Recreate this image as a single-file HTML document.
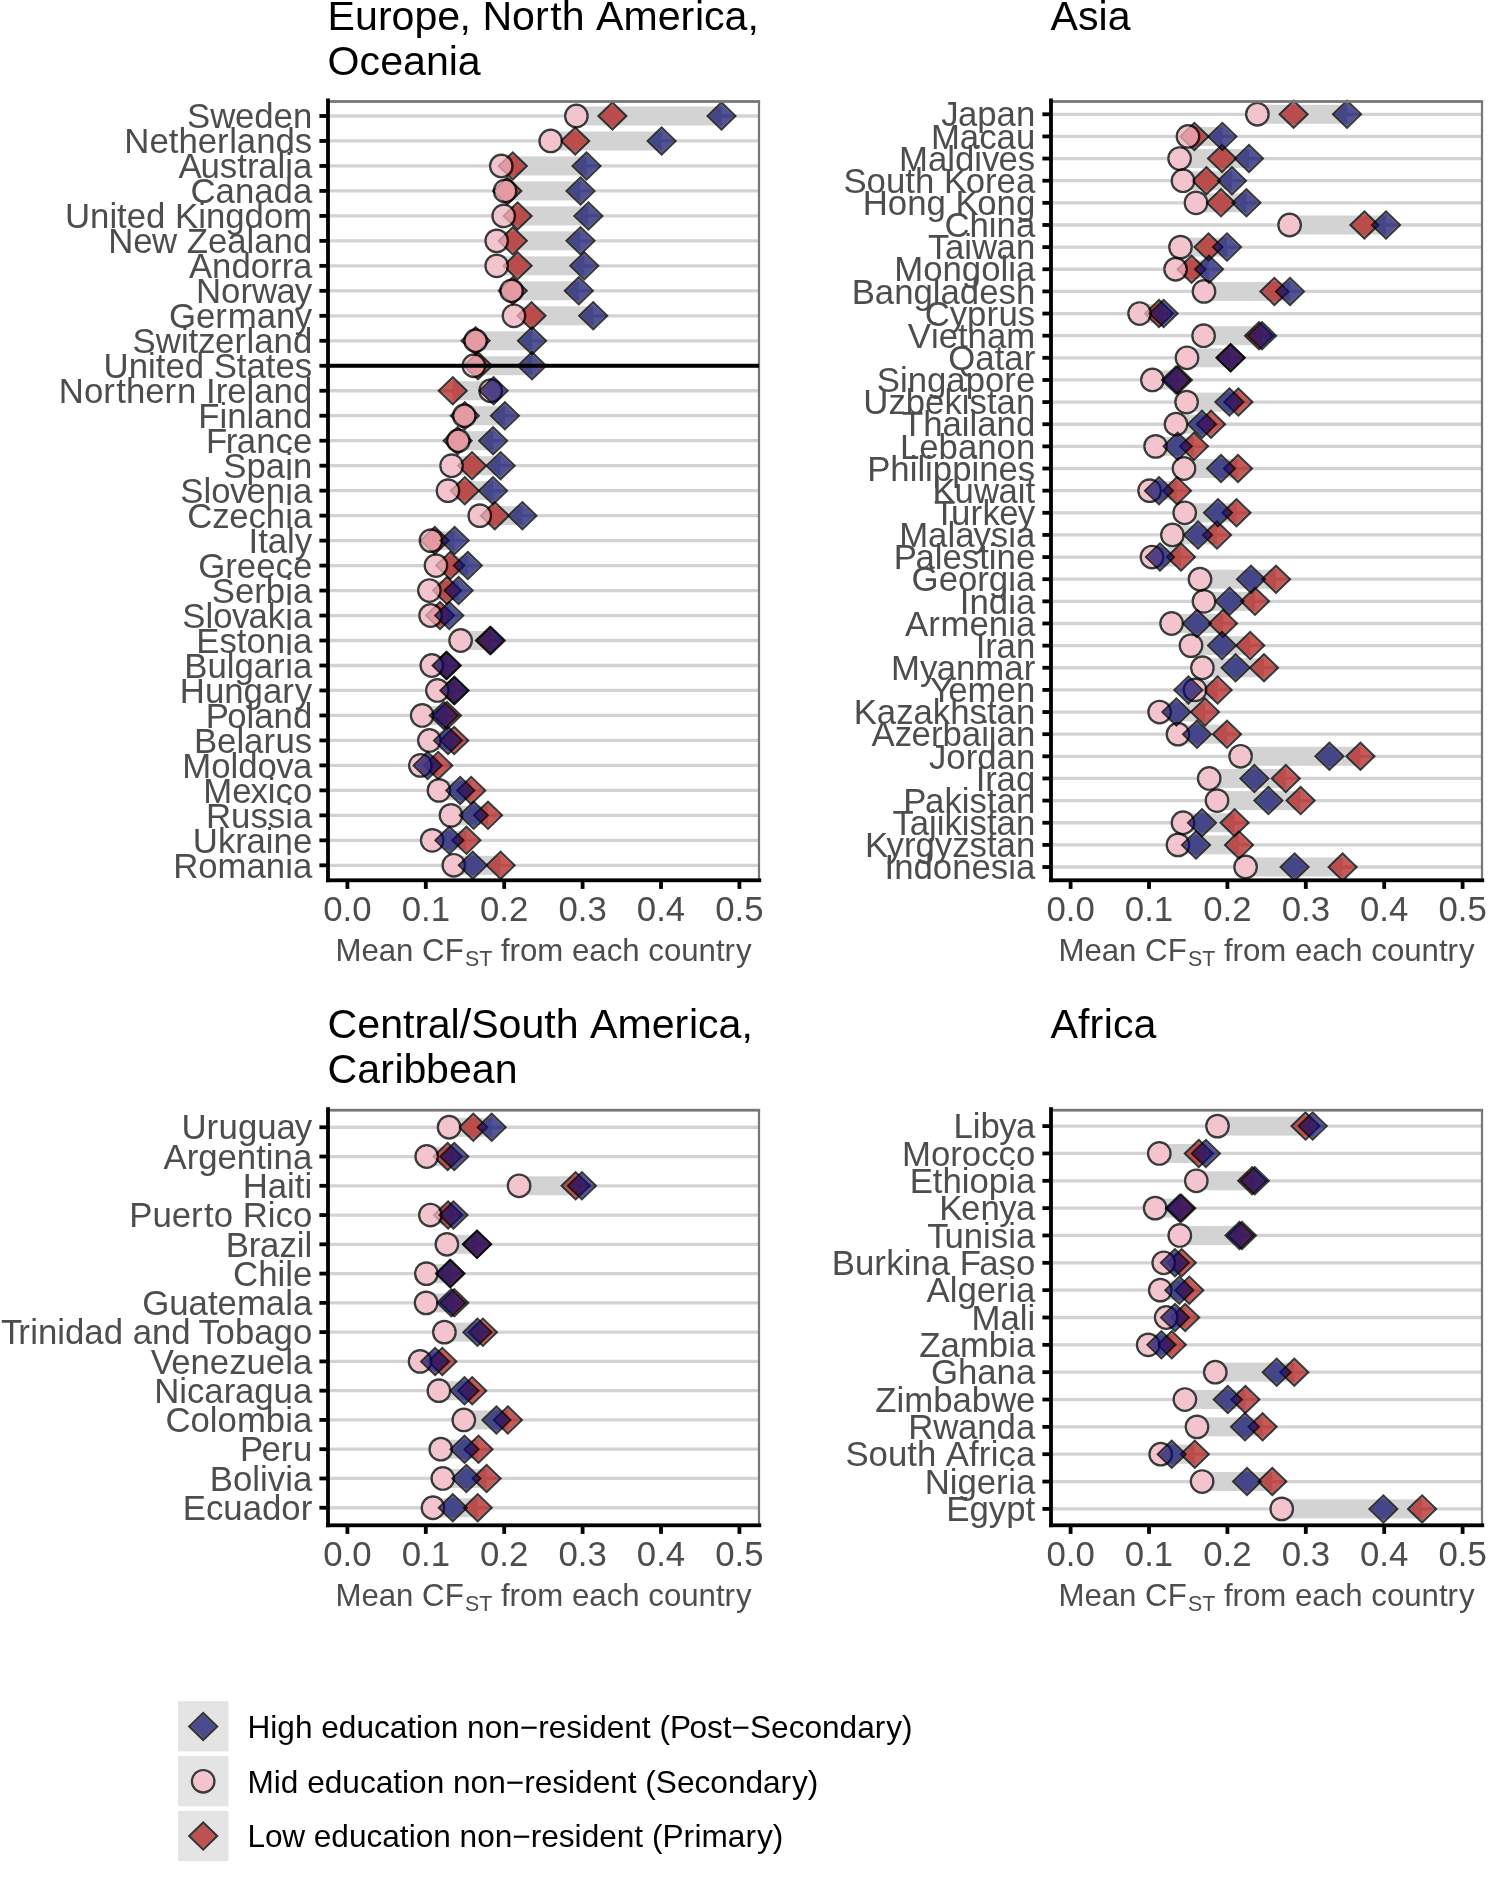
<!DOCTYPE html>
<html><head><meta charset="utf-8"><title>chart</title><style>
html,body{margin:0;padding:0;background:#fff;}
svg{display:block;will-change:transform;}
text{font-family:"Liberation Sans",sans-serif;}
.lbl{font-size:34.75px;fill:#4d4d4d;}
.axt{font-size:31.2px;fill:#4d4d4d;}
.sub{font-size:21.4px;fill:#4d4d4d;}
.ttl{font-size:41.12px;fill:#000;}
.leg{font-size:31.6px;fill:#000;}
</style></head>
<body><svg width="1500" height="1882" viewBox="0 0 1500 1882">
<rect width="1500" height="1882" fill="#fff"/>
<line x1="328" x2="759" y1="115.99" y2="115.99" stroke="#d3d3d3" stroke-width="3.3"/>
<line x1="328" x2="759" y1="140.96" y2="140.96" stroke="#d3d3d3" stroke-width="3.3"/>
<line x1="328" x2="759" y1="165.94" y2="165.94" stroke="#d3d3d3" stroke-width="3.3"/>
<line x1="328" x2="759" y1="190.92" y2="190.92" stroke="#d3d3d3" stroke-width="3.3"/>
<line x1="328" x2="759" y1="215.90" y2="215.90" stroke="#d3d3d3" stroke-width="3.3"/>
<line x1="328" x2="759" y1="240.87" y2="240.87" stroke="#d3d3d3" stroke-width="3.3"/>
<line x1="328" x2="759" y1="265.85" y2="265.85" stroke="#d3d3d3" stroke-width="3.3"/>
<line x1="328" x2="759" y1="290.83" y2="290.83" stroke="#d3d3d3" stroke-width="3.3"/>
<line x1="328" x2="759" y1="315.81" y2="315.81" stroke="#d3d3d3" stroke-width="3.3"/>
<line x1="328" x2="759" y1="340.78" y2="340.78" stroke="#d3d3d3" stroke-width="3.3"/>
<line x1="328" x2="759" y1="365.76" y2="365.76" stroke="#d3d3d3" stroke-width="3.3"/>
<line x1="328" x2="759" y1="390.74" y2="390.74" stroke="#d3d3d3" stroke-width="3.3"/>
<line x1="328" x2="759" y1="415.72" y2="415.72" stroke="#d3d3d3" stroke-width="3.3"/>
<line x1="328" x2="759" y1="440.69" y2="440.69" stroke="#d3d3d3" stroke-width="3.3"/>
<line x1="328" x2="759" y1="465.67" y2="465.67" stroke="#d3d3d3" stroke-width="3.3"/>
<line x1="328" x2="759" y1="490.65" y2="490.65" stroke="#d3d3d3" stroke-width="3.3"/>
<line x1="328" x2="759" y1="515.63" y2="515.63" stroke="#d3d3d3" stroke-width="3.3"/>
<line x1="328" x2="759" y1="540.61" y2="540.61" stroke="#d3d3d3" stroke-width="3.3"/>
<line x1="328" x2="759" y1="565.58" y2="565.58" stroke="#d3d3d3" stroke-width="3.3"/>
<line x1="328" x2="759" y1="590.56" y2="590.56" stroke="#d3d3d3" stroke-width="3.3"/>
<line x1="328" x2="759" y1="615.54" y2="615.54" stroke="#d3d3d3" stroke-width="3.3"/>
<line x1="328" x2="759" y1="640.52" y2="640.52" stroke="#d3d3d3" stroke-width="3.3"/>
<line x1="328" x2="759" y1="665.49" y2="665.49" stroke="#d3d3d3" stroke-width="3.3"/>
<line x1="328" x2="759" y1="690.47" y2="690.47" stroke="#d3d3d3" stroke-width="3.3"/>
<line x1="328" x2="759" y1="715.45" y2="715.45" stroke="#d3d3d3" stroke-width="3.3"/>
<line x1="328" x2="759" y1="740.43" y2="740.43" stroke="#d3d3d3" stroke-width="3.3"/>
<line x1="328" x2="759" y1="765.40" y2="765.40" stroke="#d3d3d3" stroke-width="3.3"/>
<line x1="328" x2="759" y1="790.38" y2="790.38" stroke="#d3d3d3" stroke-width="3.3"/>
<line x1="328" x2="759" y1="815.36" y2="815.36" stroke="#d3d3d3" stroke-width="3.3"/>
<line x1="328" x2="759" y1="840.34" y2="840.34" stroke="#d3d3d3" stroke-width="3.3"/>
<line x1="328" x2="759" y1="865.31" y2="865.31" stroke="#d3d3d3" stroke-width="3.3"/>
<rect x="576.40" y="106.49" width="145.10" height="19" fill="#d3d3d3"/>
<rect x="550.70" y="131.46" width="110.90" height="19" fill="#d3d3d3"/>
<rect x="501.30" y="156.44" width="85.20" height="19" fill="#d3d3d3"/>
<rect x="505.10" y="181.42" width="75.40" height="19" fill="#d3d3d3"/>
<rect x="503.70" y="206.40" width="84.70" height="19" fill="#d3d3d3"/>
<rect x="496.70" y="231.37" width="83.80" height="19" fill="#d3d3d3"/>
<rect x="496.70" y="256.35" width="87.60" height="19" fill="#d3d3d3"/>
<rect x="511.60" y="281.33" width="67.20" height="19" fill="#d3d3d3"/>
<rect x="514.00" y="306.31" width="79.20" height="19" fill="#d3d3d3"/>
<rect x="475.60" y="331.28" width="56.40" height="19" fill="#d3d3d3"/>
<rect x="473.90" y="356.26" width="58.10" height="19" fill="#d3d3d3"/>
<rect x="452.80" y="381.24" width="40.80" height="19" fill="#d3d3d3"/>
<rect x="464.30" y="406.22" width="40.60" height="19" fill="#d3d3d3"/>
<rect x="457.60" y="431.19" width="35.50" height="19" fill="#d3d3d3"/>
<rect x="451.60" y="456.17" width="49.00" height="19" fill="#d3d3d3"/>
<rect x="448.00" y="481.15" width="45.00" height="19" fill="#d3d3d3"/>
<rect x="479.80" y="506.13" width="42.60" height="19" fill="#d3d3d3"/>
<rect x="431.00" y="531.11" width="23.60" height="19" fill="#d3d3d3"/>
<rect x="436.00" y="556.08" width="31.80" height="19" fill="#d3d3d3"/>
<rect x="429.40" y="581.06" width="29.20" height="19" fill="#d3d3d3"/>
<rect x="430.60" y="606.04" width="18.60" height="19" fill="#d3d3d3"/>
<rect x="460.60" y="631.02" width="30.20" height="19" fill="#d3d3d3"/>
<rect x="431.80" y="655.99" width="15.00" height="19" fill="#d3d3d3"/>
<rect x="437.40" y="680.97" width="17.20" height="19" fill="#d3d3d3"/>
<rect x="422.20" y="705.95" width="24.80" height="19" fill="#d3d3d3"/>
<rect x="429.40" y="730.93" width="24.80" height="19" fill="#d3d3d3"/>
<rect x="420.40" y="755.90" width="17.80" height="19" fill="#d3d3d3"/>
<rect x="439.00" y="780.88" width="32.20" height="19" fill="#d3d3d3"/>
<rect x="451.00" y="805.86" width="37.00" height="19" fill="#d3d3d3"/>
<rect x="432.20" y="830.84" width="34.20" height="19" fill="#d3d3d3"/>
<rect x="453.80" y="855.81" width="46.80" height="19" fill="#d3d3d3"/>
<circle cx="576.40" cy="115.99" r="12.1" fill="#fff"/>
<circle cx="550.70" cy="140.96" r="12.1" fill="#fff"/>
<circle cx="501.30" cy="165.94" r="12.1" fill="#fff"/>
<circle cx="505.10" cy="190.92" r="12.1" fill="#fff"/>
<circle cx="503.70" cy="215.90" r="12.1" fill="#fff"/>
<circle cx="496.70" cy="240.87" r="12.1" fill="#fff"/>
<circle cx="496.70" cy="265.85" r="12.1" fill="#fff"/>
<circle cx="511.60" cy="290.83" r="12.1" fill="#fff"/>
<circle cx="514.00" cy="315.81" r="12.1" fill="#fff"/>
<circle cx="475.60" cy="340.78" r="12.1" fill="#fff"/>
<circle cx="473.90" cy="365.76" r="12.1" fill="#fff"/>
<circle cx="490.70" cy="390.74" r="12.1" fill="#fff"/>
<circle cx="464.30" cy="415.72" r="12.1" fill="#fff"/>
<circle cx="458.30" cy="440.69" r="12.1" fill="#fff"/>
<circle cx="451.60" cy="465.67" r="12.1" fill="#fff"/>
<circle cx="448.00" cy="490.65" r="12.1" fill="#fff"/>
<circle cx="479.80" cy="515.63" r="12.1" fill="#fff"/>
<circle cx="431.00" cy="540.61" r="12.1" fill="#fff"/>
<circle cx="436.00" cy="565.58" r="12.1" fill="#fff"/>
<circle cx="429.40" cy="590.56" r="12.1" fill="#fff"/>
<circle cx="430.60" cy="615.54" r="12.1" fill="#fff"/>
<circle cx="460.60" cy="640.52" r="12.1" fill="#fff"/>
<circle cx="431.80" cy="665.49" r="12.1" fill="#fff"/>
<circle cx="437.40" cy="690.47" r="12.1" fill="#fff"/>
<circle cx="422.20" cy="715.45" r="12.1" fill="#fff"/>
<circle cx="429.40" cy="740.43" r="12.1" fill="#fff"/>
<circle cx="420.40" cy="765.40" r="12.1" fill="#fff"/>
<circle cx="439.00" cy="790.38" r="12.1" fill="#fff"/>
<circle cx="451.00" cy="815.36" r="12.1" fill="#fff"/>
<circle cx="432.20" cy="840.34" r="12.1" fill="#fff"/>
<circle cx="453.80" cy="865.31" r="12.1" fill="#fff"/>
<path d="M612.40 100.99L627.90 115.99L612.40 130.99L596.90 115.99ZM612.40 104.19L624.59 115.99L612.40 127.79L600.21 115.99Z" fill-rule="evenodd" fill="#000" fill-opacity="0.77"/><path d="M612.40 104.19L624.59 115.99L612.40 127.79L600.21 115.99Z" fill="rgb(176,19,19)" fill-opacity="0.7"/>
<path d="M575.20 125.96L590.70 140.96L575.20 155.96L559.70 140.96ZM575.20 129.16L587.39 140.96L575.20 152.76L563.01 140.96Z" fill-rule="evenodd" fill="#000" fill-opacity="0.77"/><path d="M575.20 129.16L587.39 140.96L575.20 152.76L563.01 140.96Z" fill="rgb(176,19,19)" fill-opacity="0.7"/>
<path d="M512.80 150.94L528.30 165.94L512.80 180.94L497.30 165.94ZM512.80 154.14L524.99 165.94L512.80 177.74L500.61 165.94Z" fill-rule="evenodd" fill="#000" fill-opacity="0.77"/><path d="M512.80 154.14L524.99 165.94L512.80 177.74L500.61 165.94Z" fill="rgb(176,19,19)" fill-opacity="0.7"/>
<path d="M507.30 175.92L522.80 190.92L507.30 205.92L491.80 190.92ZM507.30 179.12L519.49 190.92L507.30 202.72L495.11 190.92Z" fill-rule="evenodd" fill="#000" fill-opacity="0.77"/><path d="M507.30 179.12L519.49 190.92L507.30 202.72L495.11 190.92Z" fill="rgb(176,19,19)" fill-opacity="0.7"/>
<path d="M517.60 200.90L533.10 215.90L517.60 230.90L502.10 215.90ZM517.60 204.10L529.79 215.90L517.60 227.70L505.41 215.90Z" fill-rule="evenodd" fill="#000" fill-opacity="0.77"/><path d="M517.60 204.10L529.79 215.90L517.60 227.70L505.41 215.90Z" fill="rgb(176,19,19)" fill-opacity="0.7"/>
<path d="M512.80 225.87L528.30 240.87L512.80 255.87L497.30 240.87ZM512.80 229.08L524.99 240.87L512.80 252.67L500.61 240.87Z" fill-rule="evenodd" fill="#000" fill-opacity="0.77"/><path d="M512.80 229.08L524.99 240.87L512.80 252.67L500.61 240.87Z" fill="rgb(176,19,19)" fill-opacity="0.7"/>
<path d="M517.60 250.85L533.10 265.85L517.60 280.85L502.10 265.85ZM517.60 254.05L529.79 265.85L517.60 277.65L505.41 265.85Z" fill-rule="evenodd" fill="#000" fill-opacity="0.77"/><path d="M517.60 254.05L529.79 265.85L517.60 277.65L505.41 265.85Z" fill="rgb(176,19,19)" fill-opacity="0.7"/>
<path d="M512.80 275.83L528.30 290.83L512.80 305.83L497.30 290.83ZM512.80 279.03L524.99 290.83L512.80 302.63L500.61 290.83Z" fill-rule="evenodd" fill="#000" fill-opacity="0.77"/><path d="M512.80 279.03L524.99 290.83L512.80 302.63L500.61 290.83Z" fill="rgb(176,19,19)" fill-opacity="0.7"/>
<path d="M531.50 300.81L547.00 315.81L531.50 330.81L516.00 315.81ZM531.50 304.01L543.69 315.81L531.50 327.61L519.31 315.81Z" fill-rule="evenodd" fill="#000" fill-opacity="0.77"/><path d="M531.50 304.01L543.69 315.81L531.50 327.61L519.31 315.81Z" fill="rgb(176,19,19)" fill-opacity="0.7"/>
<path d="M475.60 325.78L491.10 340.78L475.60 355.78L460.10 340.78ZM475.60 328.99L487.79 340.78L475.60 352.58L463.41 340.78Z" fill-rule="evenodd" fill="#000" fill-opacity="0.77"/><path d="M475.60 328.99L487.79 340.78L475.60 352.58L463.41 340.78Z" fill="rgb(176,19,19)" fill-opacity="0.7"/>
<path d="M478.00 350.76L493.50 365.76L478.00 380.76L462.50 365.76ZM478.00 353.96L490.19 365.76L478.00 377.56L465.81 365.76Z" fill-rule="evenodd" fill="#000" fill-opacity="0.77"/><path d="M478.00 353.96L490.19 365.76L478.00 377.56L465.81 365.76Z" fill="rgb(176,19,19)" fill-opacity="0.7"/>
<path d="M452.80 375.74L468.30 390.74L452.80 405.74L437.30 390.74ZM452.80 378.94L464.99 390.74L452.80 402.54L440.61 390.74Z" fill-rule="evenodd" fill="#000" fill-opacity="0.77"/><path d="M452.80 378.94L464.99 390.74L452.80 402.54L440.61 390.74Z" fill="rgb(176,19,19)" fill-opacity="0.7"/>
<path d="M464.80 400.72L480.30 415.72L464.80 430.72L449.30 415.72ZM464.80 403.92L476.99 415.72L464.80 427.52L452.61 415.72Z" fill-rule="evenodd" fill="#000" fill-opacity="0.77"/><path d="M464.80 403.92L476.99 415.72L464.80 427.52L452.61 415.72Z" fill="rgb(176,19,19)" fill-opacity="0.7"/>
<path d="M457.60 425.69L473.10 440.69L457.60 455.69L442.10 440.69ZM457.60 428.90L469.79 440.69L457.60 452.49L445.41 440.69Z" fill-rule="evenodd" fill="#000" fill-opacity="0.77"/><path d="M457.60 428.90L469.79 440.69L457.60 452.49L445.41 440.69Z" fill="rgb(176,19,19)" fill-opacity="0.7"/>
<path d="M472.00 450.67L487.50 465.67L472.00 480.67L456.50 465.67ZM472.00 453.87L484.19 465.67L472.00 477.47L459.81 465.67Z" fill-rule="evenodd" fill="#000" fill-opacity="0.77"/><path d="M472.00 453.87L484.19 465.67L472.00 477.47L459.81 465.67Z" fill="rgb(176,19,19)" fill-opacity="0.7"/>
<path d="M464.80 475.65L480.30 490.65L464.80 505.65L449.30 490.65ZM464.80 478.85L476.99 490.65L464.80 502.45L452.61 490.65Z" fill-rule="evenodd" fill="#000" fill-opacity="0.77"/><path d="M464.80 478.85L476.99 490.65L464.80 502.45L452.61 490.65Z" fill="rgb(176,19,19)" fill-opacity="0.7"/>
<path d="M494.80 500.63L510.30 515.63L494.80 530.63L479.30 515.63ZM494.80 503.83L506.99 515.63L494.80 527.43L482.61 515.63Z" fill-rule="evenodd" fill="#000" fill-opacity="0.77"/><path d="M494.80 503.83L506.99 515.63L494.80 527.43L482.61 515.63Z" fill="rgb(176,19,19)" fill-opacity="0.7"/>
<path d="M434.80 525.61L450.30 540.61L434.80 555.61L419.30 540.61ZM434.80 528.81L446.99 540.61L434.80 552.40L422.61 540.61Z" fill-rule="evenodd" fill="#000" fill-opacity="0.77"/><path d="M434.80 528.81L446.99 540.61L434.80 552.40L422.61 540.61Z" fill="rgb(176,19,19)" fill-opacity="0.7"/>
<path d="M450.20 550.58L465.70 565.58L450.20 580.58L434.70 565.58ZM450.20 553.78L462.39 565.58L450.20 577.38L438.01 565.58Z" fill-rule="evenodd" fill="#000" fill-opacity="0.77"/><path d="M450.20 553.78L462.39 565.58L450.20 577.38L438.01 565.58Z" fill="rgb(176,19,19)" fill-opacity="0.7"/>
<path d="M447.00 575.56L462.50 590.56L447.00 605.56L431.50 590.56ZM447.00 578.76L459.19 590.56L447.00 602.36L434.81 590.56Z" fill-rule="evenodd" fill="#000" fill-opacity="0.77"/><path d="M447.00 578.76L459.19 590.56L447.00 602.36L434.81 590.56Z" fill="rgb(176,19,19)" fill-opacity="0.7"/>
<path d="M440.00 600.54L455.50 615.54L440.00 630.54L424.50 615.54ZM440.00 603.74L452.19 615.54L440.00 627.34L427.81 615.54Z" fill-rule="evenodd" fill="#000" fill-opacity="0.77"/><path d="M440.00 603.74L452.19 615.54L440.00 627.34L427.81 615.54Z" fill="rgb(176,19,19)" fill-opacity="0.7"/>
<path d="M489.90 625.52L505.40 640.52L489.90 655.52L474.40 640.52ZM489.90 628.72L502.09 640.52L489.90 652.31L477.71 640.52Z" fill-rule="evenodd" fill="#000" fill-opacity="0.77"/><path d="M489.90 628.72L502.09 640.52L489.90 652.31L477.71 640.52Z" fill="rgb(176,19,19)" fill-opacity="0.7"/>
<path d="M446.20 650.49L461.70 665.49L446.20 680.49L430.70 665.49ZM446.20 653.69L458.39 665.49L446.20 677.29L434.01 665.49Z" fill-rule="evenodd" fill="#000" fill-opacity="0.77"/><path d="M446.20 653.69L458.39 665.49L446.20 677.29L434.01 665.49Z" fill="rgb(176,19,19)" fill-opacity="0.7"/>
<path d="M454.00 675.47L469.50 690.47L454.00 705.47L438.50 690.47ZM454.00 678.67L466.19 690.47L454.00 702.27L441.81 690.47Z" fill-rule="evenodd" fill="#000" fill-opacity="0.77"/><path d="M454.00 678.67L466.19 690.47L454.00 702.27L441.81 690.47Z" fill="rgb(176,19,19)" fill-opacity="0.7"/>
<path d="M447.00 700.45L462.50 715.45L447.00 730.45L431.50 715.45ZM447.00 703.65L459.19 715.45L447.00 727.25L434.81 715.45Z" fill-rule="evenodd" fill="#000" fill-opacity="0.77"/><path d="M447.00 703.65L459.19 715.45L447.00 727.25L434.81 715.45Z" fill="rgb(176,19,19)" fill-opacity="0.7"/>
<path d="M454.20 725.43L469.70 740.43L454.20 755.43L438.70 740.43ZM454.20 728.63L466.39 740.43L454.20 752.22L442.01 740.43Z" fill-rule="evenodd" fill="#000" fill-opacity="0.77"/><path d="M454.20 728.63L466.39 740.43L454.20 752.22L442.01 740.43Z" fill="rgb(176,19,19)" fill-opacity="0.7"/>
<path d="M438.20 750.40L453.70 765.40L438.20 780.40L422.70 765.40ZM438.20 753.60L450.39 765.40L438.20 777.20L426.01 765.40Z" fill-rule="evenodd" fill="#000" fill-opacity="0.77"/><path d="M438.20 753.60L450.39 765.40L438.20 777.20L426.01 765.40Z" fill="rgb(176,19,19)" fill-opacity="0.7"/>
<path d="M471.20 775.38L486.70 790.38L471.20 805.38L455.70 790.38ZM471.20 778.58L483.39 790.38L471.20 802.18L459.01 790.38Z" fill-rule="evenodd" fill="#000" fill-opacity="0.77"/><path d="M471.20 778.58L483.39 790.38L471.20 802.18L459.01 790.38Z" fill="rgb(176,19,19)" fill-opacity="0.7"/>
<path d="M488.00 800.36L503.50 815.36L488.00 830.36L472.50 815.36ZM488.00 803.56L500.19 815.36L488.00 827.16L475.81 815.36Z" fill-rule="evenodd" fill="#000" fill-opacity="0.77"/><path d="M488.00 803.56L500.19 815.36L488.00 827.16L475.81 815.36Z" fill="rgb(176,19,19)" fill-opacity="0.7"/>
<path d="M466.40 825.34L481.90 840.34L466.40 855.34L450.90 840.34ZM466.40 828.54L478.59 840.34L466.40 852.14L454.21 840.34Z" fill-rule="evenodd" fill="#000" fill-opacity="0.77"/><path d="M466.40 828.54L478.59 840.34L466.40 852.14L454.21 840.34Z" fill="rgb(176,19,19)" fill-opacity="0.7"/>
<path d="M500.60 850.31L516.10 865.31L500.60 880.31L485.10 865.31ZM500.60 853.51L512.79 865.31L500.60 877.11L488.41 865.31Z" fill-rule="evenodd" fill="#000" fill-opacity="0.77"/><path d="M500.60 853.51L512.79 865.31L500.60 877.11L488.41 865.31Z" fill="rgb(176,19,19)" fill-opacity="0.7"/>
<path d="M564.00 115.99a12.4 12.4 0 1 0 24.80 0a12.4 12.4 0 1 0 -24.80 0ZM566.45 115.99a9.95 9.95 0 1 0 19.90 0a9.95 9.95 0 1 0 -19.90 0Z" fill-rule="evenodd" fill="#000" fill-opacity="0.77"/><circle cx="576.40" cy="115.99" r="9.95" fill="rgb(239,176,188)" fill-opacity="0.75"/>
<path d="M538.30 140.96a12.4 12.4 0 1 0 24.80 0a12.4 12.4 0 1 0 -24.80 0ZM540.75 140.96a9.95 9.95 0 1 0 19.90 0a9.95 9.95 0 1 0 -19.90 0Z" fill-rule="evenodd" fill="#000" fill-opacity="0.77"/><circle cx="550.70" cy="140.96" r="9.95" fill="rgb(239,176,188)" fill-opacity="0.75"/>
<path d="M488.90 165.94a12.4 12.4 0 1 0 24.80 0a12.4 12.4 0 1 0 -24.80 0ZM491.35 165.94a9.95 9.95 0 1 0 19.90 0a9.95 9.95 0 1 0 -19.90 0Z" fill-rule="evenodd" fill="#000" fill-opacity="0.77"/><circle cx="501.30" cy="165.94" r="9.95" fill="rgb(239,176,188)" fill-opacity="0.75"/>
<path d="M492.70 190.92a12.4 12.4 0 1 0 24.80 0a12.4 12.4 0 1 0 -24.80 0ZM495.15 190.92a9.95 9.95 0 1 0 19.90 0a9.95 9.95 0 1 0 -19.90 0Z" fill-rule="evenodd" fill="#000" fill-opacity="0.77"/><circle cx="505.10" cy="190.92" r="9.95" fill="rgb(239,176,188)" fill-opacity="0.75"/>
<path d="M491.30 215.90a12.4 12.4 0 1 0 24.80 0a12.4 12.4 0 1 0 -24.80 0ZM493.75 215.90a9.95 9.95 0 1 0 19.90 0a9.95 9.95 0 1 0 -19.90 0Z" fill-rule="evenodd" fill="#000" fill-opacity="0.77"/><circle cx="503.70" cy="215.90" r="9.95" fill="rgb(239,176,188)" fill-opacity="0.75"/>
<path d="M484.30 240.87a12.4 12.4 0 1 0 24.80 0a12.4 12.4 0 1 0 -24.80 0ZM486.75 240.87a9.95 9.95 0 1 0 19.90 0a9.95 9.95 0 1 0 -19.90 0Z" fill-rule="evenodd" fill="#000" fill-opacity="0.77"/><circle cx="496.70" cy="240.87" r="9.95" fill="rgb(239,176,188)" fill-opacity="0.75"/>
<path d="M484.30 265.85a12.4 12.4 0 1 0 24.80 0a12.4 12.4 0 1 0 -24.80 0ZM486.75 265.85a9.95 9.95 0 1 0 19.90 0a9.95 9.95 0 1 0 -19.90 0Z" fill-rule="evenodd" fill="#000" fill-opacity="0.77"/><circle cx="496.70" cy="265.85" r="9.95" fill="rgb(239,176,188)" fill-opacity="0.75"/>
<path d="M499.20 290.83a12.4 12.4 0 1 0 24.80 0a12.4 12.4 0 1 0 -24.80 0ZM501.65 290.83a9.95 9.95 0 1 0 19.90 0a9.95 9.95 0 1 0 -19.90 0Z" fill-rule="evenodd" fill="#000" fill-opacity="0.77"/><circle cx="511.60" cy="290.83" r="9.95" fill="rgb(239,176,188)" fill-opacity="0.75"/>
<path d="M501.60 315.81a12.4 12.4 0 1 0 24.80 0a12.4 12.4 0 1 0 -24.80 0ZM504.05 315.81a9.95 9.95 0 1 0 19.90 0a9.95 9.95 0 1 0 -19.90 0Z" fill-rule="evenodd" fill="#000" fill-opacity="0.77"/><circle cx="514.00" cy="315.81" r="9.95" fill="rgb(239,176,188)" fill-opacity="0.75"/>
<path d="M463.20 340.78a12.4 12.4 0 1 0 24.80 0a12.4 12.4 0 1 0 -24.80 0ZM465.65 340.78a9.95 9.95 0 1 0 19.90 0a9.95 9.95 0 1 0 -19.90 0Z" fill-rule="evenodd" fill="#000" fill-opacity="0.77"/><circle cx="475.60" cy="340.78" r="9.95" fill="rgb(239,176,188)" fill-opacity="0.75"/>
<path d="M461.50 365.76a12.4 12.4 0 1 0 24.80 0a12.4 12.4 0 1 0 -24.80 0ZM463.95 365.76a9.95 9.95 0 1 0 19.90 0a9.95 9.95 0 1 0 -19.90 0Z" fill-rule="evenodd" fill="#000" fill-opacity="0.77"/><circle cx="473.90" cy="365.76" r="9.95" fill="rgb(239,176,188)" fill-opacity="0.75"/>
<path d="M478.30 390.74a12.4 12.4 0 1 0 24.80 0a12.4 12.4 0 1 0 -24.80 0ZM480.75 390.74a9.95 9.95 0 1 0 19.90 0a9.95 9.95 0 1 0 -19.90 0Z" fill-rule="evenodd" fill="#000" fill-opacity="0.77"/><circle cx="490.70" cy="390.74" r="9.95" fill="rgb(239,176,188)" fill-opacity="0.75"/>
<path d="M451.90 415.72a12.4 12.4 0 1 0 24.80 0a12.4 12.4 0 1 0 -24.80 0ZM454.35 415.72a9.95 9.95 0 1 0 19.90 0a9.95 9.95 0 1 0 -19.90 0Z" fill-rule="evenodd" fill="#000" fill-opacity="0.77"/><circle cx="464.30" cy="415.72" r="9.95" fill="rgb(239,176,188)" fill-opacity="0.75"/>
<path d="M445.90 440.69a12.4 12.4 0 1 0 24.80 0a12.4 12.4 0 1 0 -24.80 0ZM448.35 440.69a9.95 9.95 0 1 0 19.90 0a9.95 9.95 0 1 0 -19.90 0Z" fill-rule="evenodd" fill="#000" fill-opacity="0.77"/><circle cx="458.30" cy="440.69" r="9.95" fill="rgb(239,176,188)" fill-opacity="0.75"/>
<path d="M439.20 465.67a12.4 12.4 0 1 0 24.80 0a12.4 12.4 0 1 0 -24.80 0ZM441.65 465.67a9.95 9.95 0 1 0 19.90 0a9.95 9.95 0 1 0 -19.90 0Z" fill-rule="evenodd" fill="#000" fill-opacity="0.77"/><circle cx="451.60" cy="465.67" r="9.95" fill="rgb(239,176,188)" fill-opacity="0.75"/>
<path d="M435.60 490.65a12.4 12.4 0 1 0 24.80 0a12.4 12.4 0 1 0 -24.80 0ZM438.05 490.65a9.95 9.95 0 1 0 19.90 0a9.95 9.95 0 1 0 -19.90 0Z" fill-rule="evenodd" fill="#000" fill-opacity="0.77"/><circle cx="448.00" cy="490.65" r="9.95" fill="rgb(239,176,188)" fill-opacity="0.75"/>
<path d="M467.40 515.63a12.4 12.4 0 1 0 24.80 0a12.4 12.4 0 1 0 -24.80 0ZM469.85 515.63a9.95 9.95 0 1 0 19.90 0a9.95 9.95 0 1 0 -19.90 0Z" fill-rule="evenodd" fill="#000" fill-opacity="0.77"/><circle cx="479.80" cy="515.63" r="9.95" fill="rgb(239,176,188)" fill-opacity="0.75"/>
<path d="M418.60 540.61a12.4 12.4 0 1 0 24.80 0a12.4 12.4 0 1 0 -24.80 0ZM421.05 540.61a9.95 9.95 0 1 0 19.90 0a9.95 9.95 0 1 0 -19.90 0Z" fill-rule="evenodd" fill="#000" fill-opacity="0.77"/><circle cx="431.00" cy="540.61" r="9.95" fill="rgb(239,176,188)" fill-opacity="0.75"/>
<path d="M423.60 565.58a12.4 12.4 0 1 0 24.80 0a12.4 12.4 0 1 0 -24.80 0ZM426.05 565.58a9.95 9.95 0 1 0 19.90 0a9.95 9.95 0 1 0 -19.90 0Z" fill-rule="evenodd" fill="#000" fill-opacity="0.77"/><circle cx="436.00" cy="565.58" r="9.95" fill="rgb(239,176,188)" fill-opacity="0.75"/>
<path d="M417.00 590.56a12.4 12.4 0 1 0 24.80 0a12.4 12.4 0 1 0 -24.80 0ZM419.45 590.56a9.95 9.95 0 1 0 19.90 0a9.95 9.95 0 1 0 -19.90 0Z" fill-rule="evenodd" fill="#000" fill-opacity="0.77"/><circle cx="429.40" cy="590.56" r="9.95" fill="rgb(239,176,188)" fill-opacity="0.75"/>
<path d="M418.20 615.54a12.4 12.4 0 1 0 24.80 0a12.4 12.4 0 1 0 -24.80 0ZM420.65 615.54a9.95 9.95 0 1 0 19.90 0a9.95 9.95 0 1 0 -19.90 0Z" fill-rule="evenodd" fill="#000" fill-opacity="0.77"/><circle cx="430.60" cy="615.54" r="9.95" fill="rgb(239,176,188)" fill-opacity="0.75"/>
<path d="M448.20 640.52a12.4 12.4 0 1 0 24.80 0a12.4 12.4 0 1 0 -24.80 0ZM450.65 640.52a9.95 9.95 0 1 0 19.90 0a9.95 9.95 0 1 0 -19.90 0Z" fill-rule="evenodd" fill="#000" fill-opacity="0.77"/><circle cx="460.60" cy="640.52" r="9.95" fill="rgb(239,176,188)" fill-opacity="0.75"/>
<path d="M419.40 665.49a12.4 12.4 0 1 0 24.80 0a12.4 12.4 0 1 0 -24.80 0ZM421.85 665.49a9.95 9.95 0 1 0 19.90 0a9.95 9.95 0 1 0 -19.90 0Z" fill-rule="evenodd" fill="#000" fill-opacity="0.77"/><circle cx="431.80" cy="665.49" r="9.95" fill="rgb(239,176,188)" fill-opacity="0.75"/>
<path d="M425.00 690.47a12.4 12.4 0 1 0 24.80 0a12.4 12.4 0 1 0 -24.80 0ZM427.45 690.47a9.95 9.95 0 1 0 19.90 0a9.95 9.95 0 1 0 -19.90 0Z" fill-rule="evenodd" fill="#000" fill-opacity="0.77"/><circle cx="437.40" cy="690.47" r="9.95" fill="rgb(239,176,188)" fill-opacity="0.75"/>
<path d="M409.80 715.45a12.4 12.4 0 1 0 24.80 0a12.4 12.4 0 1 0 -24.80 0ZM412.25 715.45a9.95 9.95 0 1 0 19.90 0a9.95 9.95 0 1 0 -19.90 0Z" fill-rule="evenodd" fill="#000" fill-opacity="0.77"/><circle cx="422.20" cy="715.45" r="9.95" fill="rgb(239,176,188)" fill-opacity="0.75"/>
<path d="M417.00 740.43a12.4 12.4 0 1 0 24.80 0a12.4 12.4 0 1 0 -24.80 0ZM419.45 740.43a9.95 9.95 0 1 0 19.90 0a9.95 9.95 0 1 0 -19.90 0Z" fill-rule="evenodd" fill="#000" fill-opacity="0.77"/><circle cx="429.40" cy="740.43" r="9.95" fill="rgb(239,176,188)" fill-opacity="0.75"/>
<path d="M408.00 765.40a12.4 12.4 0 1 0 24.80 0a12.4 12.4 0 1 0 -24.80 0ZM410.45 765.40a9.95 9.95 0 1 0 19.90 0a9.95 9.95 0 1 0 -19.90 0Z" fill-rule="evenodd" fill="#000" fill-opacity="0.77"/><circle cx="420.40" cy="765.40" r="9.95" fill="rgb(239,176,188)" fill-opacity="0.75"/>
<path d="M426.60 790.38a12.4 12.4 0 1 0 24.80 0a12.4 12.4 0 1 0 -24.80 0ZM429.05 790.38a9.95 9.95 0 1 0 19.90 0a9.95 9.95 0 1 0 -19.90 0Z" fill-rule="evenodd" fill="#000" fill-opacity="0.77"/><circle cx="439.00" cy="790.38" r="9.95" fill="rgb(239,176,188)" fill-opacity="0.75"/>
<path d="M438.60 815.36a12.4 12.4 0 1 0 24.80 0a12.4 12.4 0 1 0 -24.80 0ZM441.05 815.36a9.95 9.95 0 1 0 19.90 0a9.95 9.95 0 1 0 -19.90 0Z" fill-rule="evenodd" fill="#000" fill-opacity="0.77"/><circle cx="451.00" cy="815.36" r="9.95" fill="rgb(239,176,188)" fill-opacity="0.75"/>
<path d="M419.80 840.34a12.4 12.4 0 1 0 24.80 0a12.4 12.4 0 1 0 -24.80 0ZM422.25 840.34a9.95 9.95 0 1 0 19.90 0a9.95 9.95 0 1 0 -19.90 0Z" fill-rule="evenodd" fill="#000" fill-opacity="0.77"/><circle cx="432.20" cy="840.34" r="9.95" fill="rgb(239,176,188)" fill-opacity="0.75"/>
<path d="M441.40 865.31a12.4 12.4 0 1 0 24.80 0a12.4 12.4 0 1 0 -24.80 0ZM443.85 865.31a9.95 9.95 0 1 0 19.90 0a9.95 9.95 0 1 0 -19.90 0Z" fill-rule="evenodd" fill="#000" fill-opacity="0.77"/><circle cx="453.80" cy="865.31" r="9.95" fill="rgb(239,176,188)" fill-opacity="0.75"/>
<path d="M721.50 100.99L737.00 115.99L721.50 130.99L706.00 115.99ZM721.50 104.19L733.69 115.99L721.50 127.79L709.31 115.99Z" fill-rule="evenodd" fill="#000" fill-opacity="0.77"/><path d="M721.50 104.19L733.69 115.99L721.50 127.79L709.31 115.99Z" fill="rgb(8,8,105)" fill-opacity="0.7"/>
<path d="M661.60 125.96L677.10 140.96L661.60 155.96L646.10 140.96ZM661.60 129.16L673.79 140.96L661.60 152.76L649.41 140.96Z" fill-rule="evenodd" fill="#000" fill-opacity="0.77"/><path d="M661.60 129.16L673.79 140.96L661.60 152.76L649.41 140.96Z" fill="rgb(8,8,105)" fill-opacity="0.7"/>
<path d="M586.50 150.94L602.00 165.94L586.50 180.94L571.00 165.94ZM586.50 154.14L598.69 165.94L586.50 177.74L574.31 165.94Z" fill-rule="evenodd" fill="#000" fill-opacity="0.77"/><path d="M586.50 154.14L598.69 165.94L586.50 177.74L574.31 165.94Z" fill="rgb(8,8,105)" fill-opacity="0.7"/>
<path d="M580.50 175.92L596.00 190.92L580.50 205.92L565.00 190.92ZM580.50 179.12L592.69 190.92L580.50 202.72L568.31 190.92Z" fill-rule="evenodd" fill="#000" fill-opacity="0.77"/><path d="M580.50 179.12L592.69 190.92L580.50 202.72L568.31 190.92Z" fill="rgb(8,8,105)" fill-opacity="0.7"/>
<path d="M588.40 200.90L603.90 215.90L588.40 230.90L572.90 215.90ZM588.40 204.10L600.59 215.90L588.40 227.70L576.21 215.90Z" fill-rule="evenodd" fill="#000" fill-opacity="0.77"/><path d="M588.40 204.10L600.59 215.90L588.40 227.70L576.21 215.90Z" fill="rgb(8,8,105)" fill-opacity="0.7"/>
<path d="M580.50 225.87L596.00 240.87L580.50 255.87L565.00 240.87ZM580.50 229.08L592.69 240.87L580.50 252.67L568.31 240.87Z" fill-rule="evenodd" fill="#000" fill-opacity="0.77"/><path d="M580.50 229.08L592.69 240.87L580.50 252.67L568.31 240.87Z" fill="rgb(8,8,105)" fill-opacity="0.7"/>
<path d="M584.30 250.85L599.80 265.85L584.30 280.85L568.80 265.85ZM584.30 254.05L596.49 265.85L584.30 277.65L572.11 265.85Z" fill-rule="evenodd" fill="#000" fill-opacity="0.77"/><path d="M584.30 254.05L596.49 265.85L584.30 277.65L572.11 265.85Z" fill="rgb(8,8,105)" fill-opacity="0.7"/>
<path d="M578.80 275.83L594.30 290.83L578.80 305.83L563.30 290.83ZM578.80 279.03L590.99 290.83L578.80 302.63L566.61 290.83Z" fill-rule="evenodd" fill="#000" fill-opacity="0.77"/><path d="M578.80 279.03L590.99 290.83L578.80 302.63L566.61 290.83Z" fill="rgb(8,8,105)" fill-opacity="0.7"/>
<path d="M593.20 300.81L608.70 315.81L593.20 330.81L577.70 315.81ZM593.20 304.01L605.39 315.81L593.20 327.61L581.01 315.81Z" fill-rule="evenodd" fill="#000" fill-opacity="0.77"/><path d="M593.20 304.01L605.39 315.81L593.20 327.61L581.01 315.81Z" fill="rgb(8,8,105)" fill-opacity="0.7"/>
<path d="M532.00 325.78L547.50 340.78L532.00 355.78L516.50 340.78ZM532.00 328.99L544.19 340.78L532.00 352.58L519.81 340.78Z" fill-rule="evenodd" fill="#000" fill-opacity="0.77"/><path d="M532.00 328.99L544.19 340.78L532.00 352.58L519.81 340.78Z" fill="rgb(8,8,105)" fill-opacity="0.7"/>
<path d="M532.00 350.76L547.50 365.76L532.00 380.76L516.50 365.76ZM532.00 353.96L544.19 365.76L532.00 377.56L519.81 365.76Z" fill-rule="evenodd" fill="#000" fill-opacity="0.77"/><path d="M532.00 353.96L544.19 365.76L532.00 377.56L519.81 365.76Z" fill="rgb(8,8,105)" fill-opacity="0.7"/>
<path d="M493.60 375.74L509.10 390.74L493.60 405.74L478.10 390.74ZM493.60 378.94L505.79 390.74L493.60 402.54L481.41 390.74Z" fill-rule="evenodd" fill="#000" fill-opacity="0.77"/><path d="M493.60 378.94L505.79 390.74L493.60 402.54L481.41 390.74Z" fill="rgb(8,8,105)" fill-opacity="0.7"/>
<path d="M504.90 400.72L520.40 415.72L504.90 430.72L489.40 415.72ZM504.90 403.92L517.09 415.72L504.90 427.52L492.71 415.72Z" fill-rule="evenodd" fill="#000" fill-opacity="0.77"/><path d="M504.90 403.92L517.09 415.72L504.90 427.52L492.71 415.72Z" fill="rgb(8,8,105)" fill-opacity="0.7"/>
<path d="M493.10 425.69L508.60 440.69L493.10 455.69L477.60 440.69ZM493.10 428.90L505.29 440.69L493.10 452.49L480.91 440.69Z" fill-rule="evenodd" fill="#000" fill-opacity="0.77"/><path d="M493.10 428.90L505.29 440.69L493.10 452.49L480.91 440.69Z" fill="rgb(8,8,105)" fill-opacity="0.7"/>
<path d="M500.60 450.67L516.10 465.67L500.60 480.67L485.10 465.67ZM500.60 453.87L512.79 465.67L500.60 477.47L488.41 465.67Z" fill-rule="evenodd" fill="#000" fill-opacity="0.77"/><path d="M500.60 453.87L512.79 465.67L500.60 477.47L488.41 465.67Z" fill="rgb(8,8,105)" fill-opacity="0.7"/>
<path d="M493.00 475.65L508.50 490.65L493.00 505.65L477.50 490.65ZM493.00 478.85L505.19 490.65L493.00 502.45L480.81 490.65Z" fill-rule="evenodd" fill="#000" fill-opacity="0.77"/><path d="M493.00 478.85L505.19 490.65L493.00 502.45L480.81 490.65Z" fill="rgb(8,8,105)" fill-opacity="0.7"/>
<path d="M522.40 500.63L537.90 515.63L522.40 530.63L506.90 515.63ZM522.40 503.83L534.59 515.63L522.40 527.43L510.21 515.63Z" fill-rule="evenodd" fill="#000" fill-opacity="0.77"/><path d="M522.40 503.83L534.59 515.63L522.40 527.43L510.21 515.63Z" fill="rgb(8,8,105)" fill-opacity="0.7"/>
<path d="M454.60 525.61L470.10 540.61L454.60 555.61L439.10 540.61ZM454.60 528.81L466.79 540.61L454.60 552.40L442.41 540.61Z" fill-rule="evenodd" fill="#000" fill-opacity="0.77"/><path d="M454.60 528.81L466.79 540.61L454.60 552.40L442.41 540.61Z" fill="rgb(8,8,105)" fill-opacity="0.7"/>
<path d="M467.80 550.58L483.30 565.58L467.80 580.58L452.30 565.58ZM467.80 553.78L479.99 565.58L467.80 577.38L455.61 565.58Z" fill-rule="evenodd" fill="#000" fill-opacity="0.77"/><path d="M467.80 553.78L479.99 565.58L467.80 577.38L455.61 565.58Z" fill="rgb(8,8,105)" fill-opacity="0.7"/>
<path d="M458.60 575.56L474.10 590.56L458.60 605.56L443.10 590.56ZM458.60 578.76L470.79 590.56L458.60 602.36L446.41 590.56Z" fill-rule="evenodd" fill="#000" fill-opacity="0.77"/><path d="M458.60 578.76L470.79 590.56L458.60 602.36L446.41 590.56Z" fill="rgb(8,8,105)" fill-opacity="0.7"/>
<path d="M449.20 600.54L464.70 615.54L449.20 630.54L433.70 615.54ZM449.20 603.74L461.39 615.54L449.20 627.34L437.01 615.54Z" fill-rule="evenodd" fill="#000" fill-opacity="0.77"/><path d="M449.20 603.74L461.39 615.54L449.20 627.34L437.01 615.54Z" fill="rgb(8,8,105)" fill-opacity="0.7"/>
<path d="M490.80 625.52L506.30 640.52L490.80 655.52L475.30 640.52ZM490.80 628.72L502.99 640.52L490.80 652.31L478.61 640.52Z" fill-rule="evenodd" fill="#000" fill-opacity="0.77"/><path d="M490.80 628.72L502.99 640.52L490.80 652.31L478.61 640.52Z" fill="rgb(8,8,105)" fill-opacity="0.7"/>
<path d="M446.80 650.49L462.30 665.49L446.80 680.49L431.30 665.49ZM446.80 653.69L458.99 665.49L446.80 677.29L434.61 665.49Z" fill-rule="evenodd" fill="#000" fill-opacity="0.77"/><path d="M446.80 653.69L458.99 665.49L446.80 677.29L434.61 665.49Z" fill="rgb(8,8,105)" fill-opacity="0.7"/>
<path d="M454.60 675.47L470.10 690.47L454.60 705.47L439.10 690.47ZM454.60 678.67L466.79 690.47L454.60 702.27L442.41 690.47Z" fill-rule="evenodd" fill="#000" fill-opacity="0.77"/><path d="M454.60 678.67L466.79 690.47L454.60 702.27L442.41 690.47Z" fill="rgb(8,8,105)" fill-opacity="0.7"/>
<path d="M443.80 700.45L459.30 715.45L443.80 730.45L428.30 715.45ZM443.80 703.65L455.99 715.45L443.80 727.25L431.61 715.45Z" fill-rule="evenodd" fill="#000" fill-opacity="0.77"/><path d="M443.80 703.65L455.99 715.45L443.80 727.25L431.61 715.45Z" fill="rgb(8,8,105)" fill-opacity="0.7"/>
<path d="M448.00 725.43L463.50 740.43L448.00 755.43L432.50 740.43ZM448.00 728.63L460.19 740.43L448.00 752.22L435.81 740.43Z" fill-rule="evenodd" fill="#000" fill-opacity="0.77"/><path d="M448.00 728.63L460.19 740.43L448.00 752.22L435.81 740.43Z" fill="rgb(8,8,105)" fill-opacity="0.7"/>
<path d="M427.60 750.40L443.10 765.40L427.60 780.40L412.10 765.40ZM427.60 753.60L439.79 765.40L427.60 777.20L415.41 765.40Z" fill-rule="evenodd" fill="#000" fill-opacity="0.77"/><path d="M427.60 753.60L439.79 765.40L427.60 777.20L415.41 765.40Z" fill="rgb(8,8,105)" fill-opacity="0.7"/>
<path d="M460.20 775.38L475.70 790.38L460.20 805.38L444.70 790.38ZM460.20 778.58L472.39 790.38L460.20 802.18L448.01 790.38Z" fill-rule="evenodd" fill="#000" fill-opacity="0.77"/><path d="M460.20 778.58L472.39 790.38L460.20 802.18L448.01 790.38Z" fill="rgb(8,8,105)" fill-opacity="0.7"/>
<path d="M473.70 800.36L489.20 815.36L473.70 830.36L458.20 815.36ZM473.70 803.56L485.89 815.36L473.70 827.16L461.51 815.36Z" fill-rule="evenodd" fill="#000" fill-opacity="0.77"/><path d="M473.70 803.56L485.89 815.36L473.70 827.16L461.51 815.36Z" fill="rgb(8,8,105)" fill-opacity="0.7"/>
<path d="M449.40 825.34L464.90 840.34L449.40 855.34L433.90 840.34ZM449.40 828.54L461.59 840.34L449.40 852.14L437.21 840.34Z" fill-rule="evenodd" fill="#000" fill-opacity="0.77"/><path d="M449.40 828.54L461.59 840.34L449.40 852.14L437.21 840.34Z" fill="rgb(8,8,105)" fill-opacity="0.7"/>
<path d="M472.80 850.31L488.30 865.31L472.80 880.31L457.30 865.31ZM472.80 853.51L484.99 865.31L472.80 877.11L460.61 865.31Z" fill-rule="evenodd" fill="#000" fill-opacity="0.77"/><path d="M472.80 853.51L484.99 865.31L472.80 877.11L460.61 865.31Z" fill="rgb(8,8,105)" fill-opacity="0.7"/>
<rect x="328" y="100.10" width="432.10" height="2.8" fill="#777777"/>
<rect x="757.90" y="101.0" width="2.2" height="779.30" fill="#777777"/>
<rect x="326.1" y="98.5" width="3.8" height="783.6999999999999" fill="#000"/>
<rect x="326.1" y="878.4" width="435.1" height="3.8" fill="#000"/>
<rect x="319.4" y="114.09" width="8.6" height="3.8" fill="#000"/>
<rect x="319.4" y="139.06" width="8.6" height="3.8" fill="#000"/>
<rect x="319.4" y="164.04" width="8.6" height="3.8" fill="#000"/>
<rect x="319.4" y="189.02" width="8.6" height="3.8" fill="#000"/>
<rect x="319.4" y="214.00" width="8.6" height="3.8" fill="#000"/>
<rect x="319.4" y="238.97" width="8.6" height="3.8" fill="#000"/>
<rect x="319.4" y="263.95" width="8.6" height="3.8" fill="#000"/>
<rect x="319.4" y="288.93" width="8.6" height="3.8" fill="#000"/>
<rect x="319.4" y="313.91" width="8.6" height="3.8" fill="#000"/>
<rect x="319.4" y="338.88" width="8.6" height="3.8" fill="#000"/>
<rect x="319.4" y="363.86" width="8.6" height="3.8" fill="#000"/>
<rect x="319.4" y="388.84" width="8.6" height="3.8" fill="#000"/>
<rect x="319.4" y="413.82" width="8.6" height="3.8" fill="#000"/>
<rect x="319.4" y="438.79" width="8.6" height="3.8" fill="#000"/>
<rect x="319.4" y="463.77" width="8.6" height="3.8" fill="#000"/>
<rect x="319.4" y="488.75" width="8.6" height="3.8" fill="#000"/>
<rect x="319.4" y="513.73" width="8.6" height="3.8" fill="#000"/>
<rect x="319.4" y="538.71" width="8.6" height="3.8" fill="#000"/>
<rect x="319.4" y="563.68" width="8.6" height="3.8" fill="#000"/>
<rect x="319.4" y="588.66" width="8.6" height="3.8" fill="#000"/>
<rect x="319.4" y="613.64" width="8.6" height="3.8" fill="#000"/>
<rect x="319.4" y="638.62" width="8.6" height="3.8" fill="#000"/>
<rect x="319.4" y="663.59" width="8.6" height="3.8" fill="#000"/>
<rect x="319.4" y="688.57" width="8.6" height="3.8" fill="#000"/>
<rect x="319.4" y="713.55" width="8.6" height="3.8" fill="#000"/>
<rect x="319.4" y="738.53" width="8.6" height="3.8" fill="#000"/>
<rect x="319.4" y="763.50" width="8.6" height="3.8" fill="#000"/>
<rect x="319.4" y="788.48" width="8.6" height="3.8" fill="#000"/>
<rect x="319.4" y="813.46" width="8.6" height="3.8" fill="#000"/>
<rect x="319.4" y="838.44" width="8.6" height="3.8" fill="#000"/>
<rect x="319.4" y="863.41" width="8.6" height="3.8" fill="#000"/>
<rect x="345.50" y="880.3" width="3.8" height="8.6" fill="#000"/>
<rect x="423.90" y="880.3" width="3.8" height="8.6" fill="#000"/>
<rect x="502.30" y="880.3" width="3.8" height="8.6" fill="#000"/>
<rect x="580.70" y="880.3" width="3.8" height="8.6" fill="#000"/>
<rect x="659.10" y="880.3" width="3.8" height="8.6" fill="#000"/>
<rect x="737.50" y="880.3" width="3.8" height="8.6" fill="#000"/>
<text x="187.00 210.17 234.92 254.24 273.56 292.88" y="128.19" class="lbl">Sweden</text>
<text x="124.34 149.43 168.75 178.41 197.73 217.05 229.15 236.86 256.18 275.50 294.82" y="153.16" class="lbl">Netherlands</text>
<text x="178.41 200.55 219.87 237.24 246.90 258.13 277.45 285.16 292.88" y="178.14" class="lbl">Australia</text>
<text x="190.51 215.59 234.92 254.24 273.56 292.88" y="203.12" class="lbl">Canada</text>
<text x="64.99 90.08 109.40 117.11 126.77 146.09 165.42 175.08 198.25 205.97 225.29 244.61 263.93 283.25" y="228.10" class="lbl">United Kingdom</text>
<text x="108.18 133.27 151.90 176.99 186.65 207.88 227.20 246.52 254.24 273.56 292.88" y="253.07" class="lbl">New Zealand</text>
<text x="188.94 212.12 231.44 250.76 270.08 281.65 292.88" y="278.05" class="lbl">Andorra</text>
<text x="196.00 221.09 240.41 251.98 276.55 294.82" y="303.03" class="lbl">Norway</text>
<text x="168.96 196.00 215.32 227.76 256.70 276.03 294.82" y="328.01" class="lbl">Germany</text>
<text x="132.61 155.79 180.88 188.59 198.25 215.11 234.43 246.52 254.24 273.56 292.88" y="352.98" class="lbl">Switzerland</text>
<text x="103.60 128.69 148.01 155.72 165.38 184.70 204.02 213.68 236.86 246.52 265.84 275.50 294.82" y="377.96" class="lbl">United States</text>
<text x="58.87 83.96 103.28 116.24 125.91 145.23 164.55 176.99 196.31 205.97 215.63 227.20 246.52 254.24 273.56 292.88" y="402.94" class="lbl">Northern Ireland</text>
<text x="198.25 219.49 227.20 246.52 254.24 273.56 292.88" y="427.92" class="lbl">Finland</text>
<text x="205.97 225.64 236.86 256.18 275.50 292.88" y="452.89" class="lbl">France</text>
<text x="223.34 246.52 265.84 285.16 292.88" y="477.87" class="lbl">Spain</text>
<text x="180.32 203.50 211.22 230.02 246.52 265.84 285.16 292.88" y="502.85" class="lbl">Slovenia</text>
<text x="187.20 212.29 229.15 248.47 265.84 285.16 292.88" y="527.83" class="lbl">Czechia</text>
<text x="248.47 258.13 267.79 287.11 294.82" y="552.81" class="lbl">Italy</text>
<text x="198.25 225.29 236.86 256.18 275.50 292.88" y="577.78" class="lbl">Greece</text>
<text x="211.77 234.95 254.27 265.84 285.16 292.88" y="602.76" class="lbl">Serbia</text>
<text x="182.27 205.45 213.16 231.96 248.47 267.79 285.16 292.88" y="627.74" class="lbl">Slovakia</text>
<text x="196.31 219.49 236.86 246.52 265.84 285.16 292.88" y="652.72" class="lbl">Estonia</text>
<text x="184.22 207.39 226.71 234.43 253.75 273.07 285.16 292.88" y="677.69" class="lbl">Bulgaria</text>
<text x="179.84 204.93 224.25 243.57 262.89 282.21 294.82" y="702.67" class="lbl">Hungary</text>
<text x="205.76 227.20 246.52 254.24 273.56 292.88" y="727.65" class="lbl">Poland</text>
<text x="193.88 217.05 236.38 244.09 263.41 275.50 294.82" y="752.63" class="lbl">Belarus</text>
<text x="182.27 211.22 230.54 238.25 257.57 276.37 292.88" y="777.60" class="lbl">Moldova</text>
<text x="203.19 232.14 250.41 267.79 275.50 292.88" y="802.58" class="lbl">Mexico</text>
<text x="206.00 231.09 250.41 267.79 285.16 292.88" y="827.56" class="lbl">Russia</text>
<text x="192.83 217.92 235.30 246.52 265.84 273.56 292.88" y="852.54" class="lbl">Ukraine</text>
<text x="173.17 198.25 217.58 246.52 265.84 285.16 292.88" y="877.51" class="lbl">Romania</text>
<text x="323.25 342.57 352.23" y="921.30" class="lbl">0.0</text>
<text x="401.65 420.97 430.63" y="921.30" class="lbl">0.1</text>
<text x="480.05 499.37 509.03" y="921.30" class="lbl">0.2</text>
<text x="558.45 577.77 587.43" y="921.30" class="lbl">0.3</text>
<text x="636.85 656.17 665.83" y="921.30" class="lbl">0.4</text>
<text x="715.25 734.57 744.23" y="921.30" class="lbl">0.5</text>
<text x="335.40 361.39 378.74 396.08 413.43 422.10 444.63" y="961.10" class="axt">Mean CF</text>
<text x="464.89 479.17" y="965.90" class="sub">ST</text>
<text x="500.92 509.59 519.98 537.33 563.32 571.99 589.34 606.69 622.29 639.63 648.31 663.91 681.25 698.60 715.95 724.62 735.95" y="961.10" class="axt">from each country</text>
<text x="327.60 355.03 377.89 391.58 414.45 437.31 459.55 470.99 482.42 512.11 534.97 550.31 561.74 584.60 596.03 623.46 657.71 680.57 694.88 704.01 724.57 747.44" y="29.90" class="ttl">Europe, North America,</text>
<text x="327.60 359.59 380.15 403.01 425.88 448.74 457.87" y="74.60" class="ttl">Oceania</text>
<line x1="1051" x2="1482" y1="114.28" y2="114.28" stroke="#d3d3d3" stroke-width="3.3"/>
<line x1="1051" x2="1482" y1="136.42" y2="136.42" stroke="#d3d3d3" stroke-width="3.3"/>
<line x1="1051" x2="1482" y1="158.56" y2="158.56" stroke="#d3d3d3" stroke-width="3.3"/>
<line x1="1051" x2="1482" y1="180.70" y2="180.70" stroke="#d3d3d3" stroke-width="3.3"/>
<line x1="1051" x2="1482" y1="202.84" y2="202.84" stroke="#d3d3d3" stroke-width="3.3"/>
<line x1="1051" x2="1482" y1="224.98" y2="224.98" stroke="#d3d3d3" stroke-width="3.3"/>
<line x1="1051" x2="1482" y1="247.12" y2="247.12" stroke="#d3d3d3" stroke-width="3.3"/>
<line x1="1051" x2="1482" y1="269.26" y2="269.26" stroke="#d3d3d3" stroke-width="3.3"/>
<line x1="1051" x2="1482" y1="291.40" y2="291.40" stroke="#d3d3d3" stroke-width="3.3"/>
<line x1="1051" x2="1482" y1="313.54" y2="313.54" stroke="#d3d3d3" stroke-width="3.3"/>
<line x1="1051" x2="1482" y1="335.68" y2="335.68" stroke="#d3d3d3" stroke-width="3.3"/>
<line x1="1051" x2="1482" y1="357.81" y2="357.81" stroke="#d3d3d3" stroke-width="3.3"/>
<line x1="1051" x2="1482" y1="379.95" y2="379.95" stroke="#d3d3d3" stroke-width="3.3"/>
<line x1="1051" x2="1482" y1="402.09" y2="402.09" stroke="#d3d3d3" stroke-width="3.3"/>
<line x1="1051" x2="1482" y1="424.23" y2="424.23" stroke="#d3d3d3" stroke-width="3.3"/>
<line x1="1051" x2="1482" y1="446.37" y2="446.37" stroke="#d3d3d3" stroke-width="3.3"/>
<line x1="1051" x2="1482" y1="468.51" y2="468.51" stroke="#d3d3d3" stroke-width="3.3"/>
<line x1="1051" x2="1482" y1="490.65" y2="490.65" stroke="#d3d3d3" stroke-width="3.3"/>
<line x1="1051" x2="1482" y1="512.79" y2="512.79" stroke="#d3d3d3" stroke-width="3.3"/>
<line x1="1051" x2="1482" y1="534.93" y2="534.93" stroke="#d3d3d3" stroke-width="3.3"/>
<line x1="1051" x2="1482" y1="557.07" y2="557.07" stroke="#d3d3d3" stroke-width="3.3"/>
<line x1="1051" x2="1482" y1="579.21" y2="579.21" stroke="#d3d3d3" stroke-width="3.3"/>
<line x1="1051" x2="1482" y1="601.35" y2="601.35" stroke="#d3d3d3" stroke-width="3.3"/>
<line x1="1051" x2="1482" y1="623.49" y2="623.49" stroke="#d3d3d3" stroke-width="3.3"/>
<line x1="1051" x2="1482" y1="645.62" y2="645.62" stroke="#d3d3d3" stroke-width="3.3"/>
<line x1="1051" x2="1482" y1="667.76" y2="667.76" stroke="#d3d3d3" stroke-width="3.3"/>
<line x1="1051" x2="1482" y1="689.90" y2="689.90" stroke="#d3d3d3" stroke-width="3.3"/>
<line x1="1051" x2="1482" y1="712.04" y2="712.04" stroke="#d3d3d3" stroke-width="3.3"/>
<line x1="1051" x2="1482" y1="734.18" y2="734.18" stroke="#d3d3d3" stroke-width="3.3"/>
<line x1="1051" x2="1482" y1="756.32" y2="756.32" stroke="#d3d3d3" stroke-width="3.3"/>
<line x1="1051" x2="1482" y1="778.46" y2="778.46" stroke="#d3d3d3" stroke-width="3.3"/>
<line x1="1051" x2="1482" y1="800.60" y2="800.60" stroke="#d3d3d3" stroke-width="3.3"/>
<line x1="1051" x2="1482" y1="822.74" y2="822.74" stroke="#d3d3d3" stroke-width="3.3"/>
<line x1="1051" x2="1482" y1="844.88" y2="844.88" stroke="#d3d3d3" stroke-width="3.3"/>
<line x1="1051" x2="1482" y1="867.02" y2="867.02" stroke="#d3d3d3" stroke-width="3.3"/>
<rect x="1257.40" y="104.78" width="89.60" height="19" fill="#d3d3d3"/>
<rect x="1188.00" y="126.92" width="34.40" height="19" fill="#d3d3d3"/>
<rect x="1179.60" y="149.06" width="69.40" height="19" fill="#d3d3d3"/>
<rect x="1183.00" y="171.20" width="49.00" height="19" fill="#d3d3d3"/>
<rect x="1196.00" y="193.34" width="50.40" height="19" fill="#d3d3d3"/>
<rect x="1289.60" y="215.48" width="96.40" height="19" fill="#d3d3d3"/>
<rect x="1180.50" y="237.62" width="46.50" height="19" fill="#d3d3d3"/>
<rect x="1175.60" y="259.76" width="33.40" height="19" fill="#d3d3d3"/>
<rect x="1204.00" y="281.90" width="86.00" height="19" fill="#d3d3d3"/>
<rect x="1139.60" y="304.04" width="24.00" height="19" fill="#d3d3d3"/>
<rect x="1203.60" y="326.18" width="58.40" height="19" fill="#d3d3d3"/>
<rect x="1187.00" y="348.31" width="43.60" height="19" fill="#d3d3d3"/>
<rect x="1152.40" y="370.45" width="25.40" height="19" fill="#d3d3d3"/>
<rect x="1186.60" y="392.59" width="51.80" height="19" fill="#d3d3d3"/>
<rect x="1176.00" y="414.73" width="35.00" height="19" fill="#d3d3d3"/>
<rect x="1155.60" y="436.87" width="38.40" height="19" fill="#d3d3d3"/>
<rect x="1184.00" y="459.01" width="54.00" height="19" fill="#d3d3d3"/>
<rect x="1149.60" y="481.15" width="27.40" height="19" fill="#d3d3d3"/>
<rect x="1184.70" y="503.29" width="51.80" height="19" fill="#d3d3d3"/>
<rect x="1172.40" y="525.43" width="44.60" height="19" fill="#d3d3d3"/>
<rect x="1152.00" y="547.57" width="29.00" height="19" fill="#d3d3d3"/>
<rect x="1200.00" y="569.71" width="76.00" height="19" fill="#d3d3d3"/>
<rect x="1204.00" y="591.85" width="51.00" height="19" fill="#d3d3d3"/>
<rect x="1171.60" y="613.99" width="51.40" height="19" fill="#d3d3d3"/>
<rect x="1191.00" y="636.12" width="59.20" height="19" fill="#d3d3d3"/>
<rect x="1202.40" y="658.26" width="61.60" height="19" fill="#d3d3d3"/>
<rect x="1188.40" y="680.40" width="29.20" height="19" fill="#d3d3d3"/>
<rect x="1159.60" y="702.54" width="45.40" height="19" fill="#d3d3d3"/>
<rect x="1178.00" y="724.68" width="49.00" height="19" fill="#d3d3d3"/>
<rect x="1240.60" y="746.82" width="119.80" height="19" fill="#d3d3d3"/>
<rect x="1209.20" y="768.96" width="76.60" height="19" fill="#d3d3d3"/>
<rect x="1217.00" y="791.10" width="83.60" height="19" fill="#d3d3d3"/>
<rect x="1183.00" y="813.24" width="51.60" height="19" fill="#d3d3d3"/>
<rect x="1178.00" y="835.38" width="61.00" height="19" fill="#d3d3d3"/>
<rect x="1245.60" y="857.52" width="97.00" height="19" fill="#d3d3d3"/>
<circle cx="1257.40" cy="114.28" r="12.1" fill="#fff"/>
<circle cx="1188.00" cy="136.42" r="12.1" fill="#fff"/>
<circle cx="1179.60" cy="158.56" r="12.1" fill="#fff"/>
<circle cx="1183.00" cy="180.70" r="12.1" fill="#fff"/>
<circle cx="1196.00" cy="202.84" r="12.1" fill="#fff"/>
<circle cx="1289.60" cy="224.98" r="12.1" fill="#fff"/>
<circle cx="1180.50" cy="247.12" r="12.1" fill="#fff"/>
<circle cx="1175.60" cy="269.26" r="12.1" fill="#fff"/>
<circle cx="1204.00" cy="291.40" r="12.1" fill="#fff"/>
<circle cx="1139.60" cy="313.54" r="12.1" fill="#fff"/>
<circle cx="1203.60" cy="335.68" r="12.1" fill="#fff"/>
<circle cx="1187.00" cy="357.81" r="12.1" fill="#fff"/>
<circle cx="1152.40" cy="379.95" r="12.1" fill="#fff"/>
<circle cx="1186.60" cy="402.09" r="12.1" fill="#fff"/>
<circle cx="1176.00" cy="424.23" r="12.1" fill="#fff"/>
<circle cx="1155.60" cy="446.37" r="12.1" fill="#fff"/>
<circle cx="1184.00" cy="468.51" r="12.1" fill="#fff"/>
<circle cx="1149.60" cy="490.65" r="12.1" fill="#fff"/>
<circle cx="1184.70" cy="512.79" r="12.1" fill="#fff"/>
<circle cx="1172.40" cy="534.93" r="12.1" fill="#fff"/>
<circle cx="1152.00" cy="557.07" r="12.1" fill="#fff"/>
<circle cx="1200.00" cy="579.21" r="12.1" fill="#fff"/>
<circle cx="1204.00" cy="601.35" r="12.1" fill="#fff"/>
<circle cx="1171.60" cy="623.49" r="12.1" fill="#fff"/>
<circle cx="1191.00" cy="645.62" r="12.1" fill="#fff"/>
<circle cx="1202.40" cy="667.76" r="12.1" fill="#fff"/>
<circle cx="1195.00" cy="689.90" r="12.1" fill="#fff"/>
<circle cx="1159.60" cy="712.04" r="12.1" fill="#fff"/>
<circle cx="1178.00" cy="734.18" r="12.1" fill="#fff"/>
<circle cx="1240.60" cy="756.32" r="12.1" fill="#fff"/>
<circle cx="1209.20" cy="778.46" r="12.1" fill="#fff"/>
<circle cx="1217.00" cy="800.60" r="12.1" fill="#fff"/>
<circle cx="1183.00" cy="822.74" r="12.1" fill="#fff"/>
<circle cx="1178.00" cy="844.88" r="12.1" fill="#fff"/>
<circle cx="1245.60" cy="867.02" r="12.1" fill="#fff"/>
<path d="M1293.60 99.28L1309.10 114.28L1293.60 129.28L1278.10 114.28ZM1293.60 102.48L1305.79 114.28L1293.60 126.08L1281.41 114.28Z" fill-rule="evenodd" fill="#000" fill-opacity="0.77"/><path d="M1293.60 102.48L1305.79 114.28L1293.60 126.08L1281.41 114.28Z" fill="rgb(176,19,19)" fill-opacity="0.7"/>
<path d="M1194.40 121.42L1209.90 136.42L1194.40 151.42L1178.90 136.42ZM1194.40 124.62L1206.59 136.42L1194.40 148.22L1182.21 136.42Z" fill-rule="evenodd" fill="#000" fill-opacity="0.77"/><path d="M1194.40 124.62L1206.59 136.42L1194.40 148.22L1182.21 136.42Z" fill="rgb(176,19,19)" fill-opacity="0.7"/>
<path d="M1222.00 143.56L1237.50 158.56L1222.00 173.56L1206.50 158.56ZM1222.00 146.76L1234.19 158.56L1222.00 170.36L1209.81 158.56Z" fill-rule="evenodd" fill="#000" fill-opacity="0.77"/><path d="M1222.00 146.76L1234.19 158.56L1222.00 170.36L1209.81 158.56Z" fill="rgb(176,19,19)" fill-opacity="0.7"/>
<path d="M1206.40 165.70L1221.90 180.70L1206.40 195.70L1190.90 180.70ZM1206.40 168.90L1218.59 180.70L1206.40 192.50L1194.21 180.70Z" fill-rule="evenodd" fill="#000" fill-opacity="0.77"/><path d="M1206.40 168.90L1218.59 180.70L1206.40 192.50L1194.21 180.70Z" fill="rgb(176,19,19)" fill-opacity="0.7"/>
<path d="M1221.00 187.84L1236.50 202.84L1221.00 217.84L1205.50 202.84ZM1221.00 191.04L1233.19 202.84L1221.00 214.64L1208.81 202.84Z" fill-rule="evenodd" fill="#000" fill-opacity="0.77"/><path d="M1221.00 191.04L1233.19 202.84L1221.00 214.64L1208.81 202.84Z" fill="rgb(176,19,19)" fill-opacity="0.7"/>
<path d="M1364.40 209.98L1379.90 224.98L1364.40 239.98L1348.90 224.98ZM1364.40 213.18L1376.59 224.98L1364.40 236.78L1352.21 224.98Z" fill-rule="evenodd" fill="#000" fill-opacity="0.77"/><path d="M1364.40 213.18L1376.59 224.98L1364.40 236.78L1352.21 224.98Z" fill="rgb(176,19,19)" fill-opacity="0.7"/>
<path d="M1208.50 232.12L1224.00 247.12L1208.50 262.12L1193.00 247.12ZM1208.50 235.32L1220.69 247.12L1208.50 258.92L1196.31 247.12Z" fill-rule="evenodd" fill="#000" fill-opacity="0.77"/><path d="M1208.50 235.32L1220.69 247.12L1208.50 258.92L1196.31 247.12Z" fill="rgb(176,19,19)" fill-opacity="0.7"/>
<path d="M1191.60 254.26L1207.10 269.26L1191.60 284.26L1176.10 269.26ZM1191.60 257.46L1203.79 269.26L1191.60 281.06L1179.41 269.26Z" fill-rule="evenodd" fill="#000" fill-opacity="0.77"/><path d="M1191.60 257.46L1203.79 269.26L1191.60 281.06L1179.41 269.26Z" fill="rgb(176,19,19)" fill-opacity="0.7"/>
<path d="M1274.40 276.40L1289.90 291.40L1274.40 306.40L1258.90 291.40ZM1274.40 279.60L1286.59 291.40L1274.40 303.20L1262.21 291.40Z" fill-rule="evenodd" fill="#000" fill-opacity="0.77"/><path d="M1274.40 279.60L1286.59 291.40L1274.40 303.20L1262.21 291.40Z" fill="rgb(176,19,19)" fill-opacity="0.7"/>
<path d="M1159.00 298.54L1174.50 313.54L1159.00 328.54L1143.50 313.54ZM1159.00 301.74L1171.19 313.54L1159.00 325.34L1146.81 313.54Z" fill-rule="evenodd" fill="#000" fill-opacity="0.77"/><path d="M1159.00 301.74L1171.19 313.54L1159.00 325.34L1146.81 313.54Z" fill="rgb(176,19,19)" fill-opacity="0.7"/>
<path d="M1259.00 320.68L1274.50 335.68L1259.00 350.68L1243.50 335.68ZM1259.00 323.88L1271.19 335.68L1259.00 347.47L1246.81 335.68Z" fill-rule="evenodd" fill="#000" fill-opacity="0.77"/><path d="M1259.00 323.88L1271.19 335.68L1259.00 347.47L1246.81 335.68Z" fill="rgb(176,19,19)" fill-opacity="0.7"/>
<path d="M1230.60 342.81L1246.10 357.81L1230.60 372.81L1215.10 357.81ZM1230.60 346.02L1242.79 357.81L1230.60 369.61L1218.41 357.81Z" fill-rule="evenodd" fill="#000" fill-opacity="0.77"/><path d="M1230.60 346.02L1242.79 357.81L1230.60 369.61L1218.41 357.81Z" fill="rgb(176,19,19)" fill-opacity="0.7"/>
<path d="M1177.80 364.95L1193.30 379.95L1177.80 394.95L1162.30 379.95ZM1177.80 368.15L1189.99 379.95L1177.80 391.75L1165.61 379.95Z" fill-rule="evenodd" fill="#000" fill-opacity="0.77"/><path d="M1177.80 368.15L1189.99 379.95L1177.80 391.75L1165.61 379.95Z" fill="rgb(176,19,19)" fill-opacity="0.7"/>
<path d="M1238.40 387.09L1253.90 402.09L1238.40 417.09L1222.90 402.09ZM1238.40 390.29L1250.59 402.09L1238.40 413.89L1226.21 402.09Z" fill-rule="evenodd" fill="#000" fill-opacity="0.77"/><path d="M1238.40 390.29L1250.59 402.09L1238.40 413.89L1226.21 402.09Z" fill="rgb(176,19,19)" fill-opacity="0.7"/>
<path d="M1211.00 409.23L1226.50 424.23L1211.00 439.23L1195.50 424.23ZM1211.00 412.43L1223.19 424.23L1211.00 436.03L1198.81 424.23Z" fill-rule="evenodd" fill="#000" fill-opacity="0.77"/><path d="M1211.00 412.43L1223.19 424.23L1211.00 436.03L1198.81 424.23Z" fill="rgb(176,19,19)" fill-opacity="0.7"/>
<path d="M1194.00 431.37L1209.50 446.37L1194.00 461.37L1178.50 446.37ZM1194.00 434.57L1206.19 446.37L1194.00 458.17L1181.81 446.37Z" fill-rule="evenodd" fill="#000" fill-opacity="0.77"/><path d="M1194.00 434.57L1206.19 446.37L1194.00 458.17L1181.81 446.37Z" fill="rgb(176,19,19)" fill-opacity="0.7"/>
<path d="M1238.00 453.51L1253.50 468.51L1238.00 483.51L1222.50 468.51ZM1238.00 456.71L1250.19 468.51L1238.00 480.31L1225.81 468.51Z" fill-rule="evenodd" fill="#000" fill-opacity="0.77"/><path d="M1238.00 456.71L1250.19 468.51L1238.00 480.31L1225.81 468.51Z" fill="rgb(176,19,19)" fill-opacity="0.7"/>
<path d="M1177.00 475.65L1192.50 490.65L1177.00 505.65L1161.50 490.65ZM1177.00 478.85L1189.19 490.65L1177.00 502.45L1164.81 490.65Z" fill-rule="evenodd" fill="#000" fill-opacity="0.77"/><path d="M1177.00 478.85L1189.19 490.65L1177.00 502.45L1164.81 490.65Z" fill="rgb(176,19,19)" fill-opacity="0.7"/>
<path d="M1236.50 497.79L1252.00 512.79L1236.50 527.79L1221.00 512.79ZM1236.50 500.99L1248.69 512.79L1236.50 524.59L1224.31 512.79Z" fill-rule="evenodd" fill="#000" fill-opacity="0.77"/><path d="M1236.50 500.99L1248.69 512.79L1236.50 524.59L1224.31 512.79Z" fill="rgb(176,19,19)" fill-opacity="0.7"/>
<path d="M1217.00 519.93L1232.50 534.93L1217.00 549.93L1201.50 534.93ZM1217.00 523.13L1229.19 534.93L1217.00 546.73L1204.81 534.93Z" fill-rule="evenodd" fill="#000" fill-opacity="0.77"/><path d="M1217.00 523.13L1229.19 534.93L1217.00 546.73L1204.81 534.93Z" fill="rgb(176,19,19)" fill-opacity="0.7"/>
<path d="M1181.00 542.07L1196.50 557.07L1181.00 572.07L1165.50 557.07ZM1181.00 545.27L1193.19 557.07L1181.00 568.87L1168.81 557.07Z" fill-rule="evenodd" fill="#000" fill-opacity="0.77"/><path d="M1181.00 545.27L1193.19 557.07L1181.00 568.87L1168.81 557.07Z" fill="rgb(176,19,19)" fill-opacity="0.7"/>
<path d="M1276.00 564.21L1291.50 579.21L1276.00 594.21L1260.50 579.21ZM1276.00 567.41L1288.19 579.21L1276.00 591.01L1263.81 579.21Z" fill-rule="evenodd" fill="#000" fill-opacity="0.77"/><path d="M1276.00 567.41L1288.19 579.21L1276.00 591.01L1263.81 579.21Z" fill="rgb(176,19,19)" fill-opacity="0.7"/>
<path d="M1255.00 586.35L1270.50 601.35L1255.00 616.35L1239.50 601.35ZM1255.00 589.55L1267.19 601.35L1255.00 613.15L1242.81 601.35Z" fill-rule="evenodd" fill="#000" fill-opacity="0.77"/><path d="M1255.00 589.55L1267.19 601.35L1255.00 613.15L1242.81 601.35Z" fill="rgb(176,19,19)" fill-opacity="0.7"/>
<path d="M1223.00 608.49L1238.50 623.49L1223.00 638.49L1207.50 623.49ZM1223.00 611.69L1235.19 623.49L1223.00 635.28L1210.81 623.49Z" fill-rule="evenodd" fill="#000" fill-opacity="0.77"/><path d="M1223.00 611.69L1235.19 623.49L1223.00 635.28L1210.81 623.49Z" fill="rgb(176,19,19)" fill-opacity="0.7"/>
<path d="M1250.20 630.62L1265.70 645.62L1250.20 660.62L1234.70 645.62ZM1250.20 633.83L1262.39 645.62L1250.20 657.42L1238.01 645.62Z" fill-rule="evenodd" fill="#000" fill-opacity="0.77"/><path d="M1250.20 633.83L1262.39 645.62L1250.20 657.42L1238.01 645.62Z" fill="rgb(176,19,19)" fill-opacity="0.7"/>
<path d="M1264.00 652.76L1279.50 667.76L1264.00 682.76L1248.50 667.76ZM1264.00 655.96L1276.19 667.76L1264.00 679.56L1251.81 667.76Z" fill-rule="evenodd" fill="#000" fill-opacity="0.77"/><path d="M1264.00 655.96L1276.19 667.76L1264.00 679.56L1251.81 667.76Z" fill="rgb(176,19,19)" fill-opacity="0.7"/>
<path d="M1217.60 674.90L1233.10 689.90L1217.60 704.90L1202.10 689.90ZM1217.60 678.10L1229.79 689.90L1217.60 701.70L1205.41 689.90Z" fill-rule="evenodd" fill="#000" fill-opacity="0.77"/><path d="M1217.60 678.10L1229.79 689.90L1217.60 701.70L1205.41 689.90Z" fill="rgb(176,19,19)" fill-opacity="0.7"/>
<path d="M1205.00 697.04L1220.50 712.04L1205.00 727.04L1189.50 712.04ZM1205.00 700.24L1217.19 712.04L1205.00 723.84L1192.81 712.04Z" fill-rule="evenodd" fill="#000" fill-opacity="0.77"/><path d="M1205.00 700.24L1217.19 712.04L1205.00 723.84L1192.81 712.04Z" fill="rgb(176,19,19)" fill-opacity="0.7"/>
<path d="M1227.00 719.18L1242.50 734.18L1227.00 749.18L1211.50 734.18ZM1227.00 722.38L1239.19 734.18L1227.00 745.98L1214.81 734.18Z" fill-rule="evenodd" fill="#000" fill-opacity="0.77"/><path d="M1227.00 722.38L1239.19 734.18L1227.00 745.98L1214.81 734.18Z" fill="rgb(176,19,19)" fill-opacity="0.7"/>
<path d="M1360.40 741.32L1375.90 756.32L1360.40 771.32L1344.90 756.32ZM1360.40 744.52L1372.59 756.32L1360.40 768.12L1348.21 756.32Z" fill-rule="evenodd" fill="#000" fill-opacity="0.77"/><path d="M1360.40 744.52L1372.59 756.32L1360.40 768.12L1348.21 756.32Z" fill="rgb(176,19,19)" fill-opacity="0.7"/>
<path d="M1285.80 763.46L1301.30 778.46L1285.80 793.46L1270.30 778.46ZM1285.80 766.66L1297.99 778.46L1285.80 790.26L1273.61 778.46Z" fill-rule="evenodd" fill="#000" fill-opacity="0.77"/><path d="M1285.80 766.66L1297.99 778.46L1285.80 790.26L1273.61 778.46Z" fill="rgb(176,19,19)" fill-opacity="0.7"/>
<path d="M1300.60 785.60L1316.10 800.60L1300.60 815.60L1285.10 800.60ZM1300.60 788.80L1312.79 800.60L1300.60 812.40L1288.41 800.60Z" fill-rule="evenodd" fill="#000" fill-opacity="0.77"/><path d="M1300.60 788.80L1312.79 800.60L1300.60 812.40L1288.41 800.60Z" fill="rgb(176,19,19)" fill-opacity="0.7"/>
<path d="M1234.60 807.74L1250.10 822.74L1234.60 837.74L1219.10 822.74ZM1234.60 810.94L1246.79 822.74L1234.60 834.54L1222.41 822.74Z" fill-rule="evenodd" fill="#000" fill-opacity="0.77"/><path d="M1234.60 810.94L1246.79 822.74L1234.60 834.54L1222.41 822.74Z" fill="rgb(176,19,19)" fill-opacity="0.7"/>
<path d="M1239.00 829.88L1254.50 844.88L1239.00 859.88L1223.50 844.88ZM1239.00 833.08L1251.19 844.88L1239.00 856.68L1226.81 844.88Z" fill-rule="evenodd" fill="#000" fill-opacity="0.77"/><path d="M1239.00 833.08L1251.19 844.88L1239.00 856.68L1226.81 844.88Z" fill="rgb(176,19,19)" fill-opacity="0.7"/>
<path d="M1342.60 852.02L1358.10 867.02L1342.60 882.02L1327.10 867.02ZM1342.60 855.22L1354.79 867.02L1342.60 878.82L1330.41 867.02Z" fill-rule="evenodd" fill="#000" fill-opacity="0.77"/><path d="M1342.60 855.22L1354.79 867.02L1342.60 878.82L1330.41 867.02Z" fill="rgb(176,19,19)" fill-opacity="0.7"/>
<path d="M1245.00 114.28a12.4 12.4 0 1 0 24.80 0a12.4 12.4 0 1 0 -24.80 0ZM1247.45 114.28a9.95 9.95 0 1 0 19.90 0a9.95 9.95 0 1 0 -19.90 0Z" fill-rule="evenodd" fill="#000" fill-opacity="0.77"/><circle cx="1257.40" cy="114.28" r="9.95" fill="rgb(239,176,188)" fill-opacity="0.75"/>
<path d="M1175.60 136.42a12.4 12.4 0 1 0 24.80 0a12.4 12.4 0 1 0 -24.80 0ZM1178.05 136.42a9.95 9.95 0 1 0 19.90 0a9.95 9.95 0 1 0 -19.90 0Z" fill-rule="evenodd" fill="#000" fill-opacity="0.77"/><circle cx="1188.00" cy="136.42" r="9.95" fill="rgb(239,176,188)" fill-opacity="0.75"/>
<path d="M1167.20 158.56a12.4 12.4 0 1 0 24.80 0a12.4 12.4 0 1 0 -24.80 0ZM1169.65 158.56a9.95 9.95 0 1 0 19.90 0a9.95 9.95 0 1 0 -19.90 0Z" fill-rule="evenodd" fill="#000" fill-opacity="0.77"/><circle cx="1179.60" cy="158.56" r="9.95" fill="rgb(239,176,188)" fill-opacity="0.75"/>
<path d="M1170.60 180.70a12.4 12.4 0 1 0 24.80 0a12.4 12.4 0 1 0 -24.80 0ZM1173.05 180.70a9.95 9.95 0 1 0 19.90 0a9.95 9.95 0 1 0 -19.90 0Z" fill-rule="evenodd" fill="#000" fill-opacity="0.77"/><circle cx="1183.00" cy="180.70" r="9.95" fill="rgb(239,176,188)" fill-opacity="0.75"/>
<path d="M1183.60 202.84a12.4 12.4 0 1 0 24.80 0a12.4 12.4 0 1 0 -24.80 0ZM1186.05 202.84a9.95 9.95 0 1 0 19.90 0a9.95 9.95 0 1 0 -19.90 0Z" fill-rule="evenodd" fill="#000" fill-opacity="0.77"/><circle cx="1196.00" cy="202.84" r="9.95" fill="rgb(239,176,188)" fill-opacity="0.75"/>
<path d="M1277.20 224.98a12.4 12.4 0 1 0 24.80 0a12.4 12.4 0 1 0 -24.80 0ZM1279.65 224.98a9.95 9.95 0 1 0 19.90 0a9.95 9.95 0 1 0 -19.90 0Z" fill-rule="evenodd" fill="#000" fill-opacity="0.77"/><circle cx="1289.60" cy="224.98" r="9.95" fill="rgb(239,176,188)" fill-opacity="0.75"/>
<path d="M1168.10 247.12a12.4 12.4 0 1 0 24.80 0a12.4 12.4 0 1 0 -24.80 0ZM1170.55 247.12a9.95 9.95 0 1 0 19.90 0a9.95 9.95 0 1 0 -19.90 0Z" fill-rule="evenodd" fill="#000" fill-opacity="0.77"/><circle cx="1180.50" cy="247.12" r="9.95" fill="rgb(239,176,188)" fill-opacity="0.75"/>
<path d="M1163.20 269.26a12.4 12.4 0 1 0 24.80 0a12.4 12.4 0 1 0 -24.80 0ZM1165.65 269.26a9.95 9.95 0 1 0 19.90 0a9.95 9.95 0 1 0 -19.90 0Z" fill-rule="evenodd" fill="#000" fill-opacity="0.77"/><circle cx="1175.60" cy="269.26" r="9.95" fill="rgb(239,176,188)" fill-opacity="0.75"/>
<path d="M1191.60 291.40a12.4 12.4 0 1 0 24.80 0a12.4 12.4 0 1 0 -24.80 0ZM1194.05 291.40a9.95 9.95 0 1 0 19.90 0a9.95 9.95 0 1 0 -19.90 0Z" fill-rule="evenodd" fill="#000" fill-opacity="0.77"/><circle cx="1204.00" cy="291.40" r="9.95" fill="rgb(239,176,188)" fill-opacity="0.75"/>
<path d="M1127.20 313.54a12.4 12.4 0 1 0 24.80 0a12.4 12.4 0 1 0 -24.80 0ZM1129.65 313.54a9.95 9.95 0 1 0 19.90 0a9.95 9.95 0 1 0 -19.90 0Z" fill-rule="evenodd" fill="#000" fill-opacity="0.77"/><circle cx="1139.60" cy="313.54" r="9.95" fill="rgb(239,176,188)" fill-opacity="0.75"/>
<path d="M1191.20 335.68a12.4 12.4 0 1 0 24.80 0a12.4 12.4 0 1 0 -24.80 0ZM1193.65 335.68a9.95 9.95 0 1 0 19.90 0a9.95 9.95 0 1 0 -19.90 0Z" fill-rule="evenodd" fill="#000" fill-opacity="0.77"/><circle cx="1203.60" cy="335.68" r="9.95" fill="rgb(239,176,188)" fill-opacity="0.75"/>
<path d="M1174.60 357.81a12.4 12.4 0 1 0 24.80 0a12.4 12.4 0 1 0 -24.80 0ZM1177.05 357.81a9.95 9.95 0 1 0 19.90 0a9.95 9.95 0 1 0 -19.90 0Z" fill-rule="evenodd" fill="#000" fill-opacity="0.77"/><circle cx="1187.00" cy="357.81" r="9.95" fill="rgb(239,176,188)" fill-opacity="0.75"/>
<path d="M1140.00 379.95a12.4 12.4 0 1 0 24.80 0a12.4 12.4 0 1 0 -24.80 0ZM1142.45 379.95a9.95 9.95 0 1 0 19.90 0a9.95 9.95 0 1 0 -19.90 0Z" fill-rule="evenodd" fill="#000" fill-opacity="0.77"/><circle cx="1152.40" cy="379.95" r="9.95" fill="rgb(239,176,188)" fill-opacity="0.75"/>
<path d="M1174.20 402.09a12.4 12.4 0 1 0 24.80 0a12.4 12.4 0 1 0 -24.80 0ZM1176.65 402.09a9.95 9.95 0 1 0 19.90 0a9.95 9.95 0 1 0 -19.90 0Z" fill-rule="evenodd" fill="#000" fill-opacity="0.77"/><circle cx="1186.60" cy="402.09" r="9.95" fill="rgb(239,176,188)" fill-opacity="0.75"/>
<path d="M1163.60 424.23a12.4 12.4 0 1 0 24.80 0a12.4 12.4 0 1 0 -24.80 0ZM1166.05 424.23a9.95 9.95 0 1 0 19.90 0a9.95 9.95 0 1 0 -19.90 0Z" fill-rule="evenodd" fill="#000" fill-opacity="0.77"/><circle cx="1176.00" cy="424.23" r="9.95" fill="rgb(239,176,188)" fill-opacity="0.75"/>
<path d="M1143.20 446.37a12.4 12.4 0 1 0 24.80 0a12.4 12.4 0 1 0 -24.80 0ZM1145.65 446.37a9.95 9.95 0 1 0 19.90 0a9.95 9.95 0 1 0 -19.90 0Z" fill-rule="evenodd" fill="#000" fill-opacity="0.77"/><circle cx="1155.60" cy="446.37" r="9.95" fill="rgb(239,176,188)" fill-opacity="0.75"/>
<path d="M1171.60 468.51a12.4 12.4 0 1 0 24.80 0a12.4 12.4 0 1 0 -24.80 0ZM1174.05 468.51a9.95 9.95 0 1 0 19.90 0a9.95 9.95 0 1 0 -19.90 0Z" fill-rule="evenodd" fill="#000" fill-opacity="0.77"/><circle cx="1184.00" cy="468.51" r="9.95" fill="rgb(239,176,188)" fill-opacity="0.75"/>
<path d="M1137.20 490.65a12.4 12.4 0 1 0 24.80 0a12.4 12.4 0 1 0 -24.80 0ZM1139.65 490.65a9.95 9.95 0 1 0 19.90 0a9.95 9.95 0 1 0 -19.90 0Z" fill-rule="evenodd" fill="#000" fill-opacity="0.77"/><circle cx="1149.60" cy="490.65" r="9.95" fill="rgb(239,176,188)" fill-opacity="0.75"/>
<path d="M1172.30 512.79a12.4 12.4 0 1 0 24.80 0a12.4 12.4 0 1 0 -24.80 0ZM1174.75 512.79a9.95 9.95 0 1 0 19.90 0a9.95 9.95 0 1 0 -19.90 0Z" fill-rule="evenodd" fill="#000" fill-opacity="0.77"/><circle cx="1184.70" cy="512.79" r="9.95" fill="rgb(239,176,188)" fill-opacity="0.75"/>
<path d="M1160.00 534.93a12.4 12.4 0 1 0 24.80 0a12.4 12.4 0 1 0 -24.80 0ZM1162.45 534.93a9.95 9.95 0 1 0 19.90 0a9.95 9.95 0 1 0 -19.90 0Z" fill-rule="evenodd" fill="#000" fill-opacity="0.77"/><circle cx="1172.40" cy="534.93" r="9.95" fill="rgb(239,176,188)" fill-opacity="0.75"/>
<path d="M1139.60 557.07a12.4 12.4 0 1 0 24.80 0a12.4 12.4 0 1 0 -24.80 0ZM1142.05 557.07a9.95 9.95 0 1 0 19.90 0a9.95 9.95 0 1 0 -19.90 0Z" fill-rule="evenodd" fill="#000" fill-opacity="0.77"/><circle cx="1152.00" cy="557.07" r="9.95" fill="rgb(239,176,188)" fill-opacity="0.75"/>
<path d="M1187.60 579.21a12.4 12.4 0 1 0 24.80 0a12.4 12.4 0 1 0 -24.80 0ZM1190.05 579.21a9.95 9.95 0 1 0 19.90 0a9.95 9.95 0 1 0 -19.90 0Z" fill-rule="evenodd" fill="#000" fill-opacity="0.77"/><circle cx="1200.00" cy="579.21" r="9.95" fill="rgb(239,176,188)" fill-opacity="0.75"/>
<path d="M1191.60 601.35a12.4 12.4 0 1 0 24.80 0a12.4 12.4 0 1 0 -24.80 0ZM1194.05 601.35a9.95 9.95 0 1 0 19.90 0a9.95 9.95 0 1 0 -19.90 0Z" fill-rule="evenodd" fill="#000" fill-opacity="0.77"/><circle cx="1204.00" cy="601.35" r="9.95" fill="rgb(239,176,188)" fill-opacity="0.75"/>
<path d="M1159.20 623.49a12.4 12.4 0 1 0 24.80 0a12.4 12.4 0 1 0 -24.80 0ZM1161.65 623.49a9.95 9.95 0 1 0 19.90 0a9.95 9.95 0 1 0 -19.90 0Z" fill-rule="evenodd" fill="#000" fill-opacity="0.77"/><circle cx="1171.60" cy="623.49" r="9.95" fill="rgb(239,176,188)" fill-opacity="0.75"/>
<path d="M1178.60 645.62a12.4 12.4 0 1 0 24.80 0a12.4 12.4 0 1 0 -24.80 0ZM1181.05 645.62a9.95 9.95 0 1 0 19.90 0a9.95 9.95 0 1 0 -19.90 0Z" fill-rule="evenodd" fill="#000" fill-opacity="0.77"/><circle cx="1191.00" cy="645.62" r="9.95" fill="rgb(239,176,188)" fill-opacity="0.75"/>
<path d="M1190.00 667.76a12.4 12.4 0 1 0 24.80 0a12.4 12.4 0 1 0 -24.80 0ZM1192.45 667.76a9.95 9.95 0 1 0 19.90 0a9.95 9.95 0 1 0 -19.90 0Z" fill-rule="evenodd" fill="#000" fill-opacity="0.77"/><circle cx="1202.40" cy="667.76" r="9.95" fill="rgb(239,176,188)" fill-opacity="0.75"/>
<path d="M1182.60 689.90a12.4 12.4 0 1 0 24.80 0a12.4 12.4 0 1 0 -24.80 0ZM1185.05 689.90a9.95 9.95 0 1 0 19.90 0a9.95 9.95 0 1 0 -19.90 0Z" fill-rule="evenodd" fill="#000" fill-opacity="0.77"/><circle cx="1195.00" cy="689.90" r="9.95" fill="rgb(239,176,188)" fill-opacity="0.75"/>
<path d="M1147.20 712.04a12.4 12.4 0 1 0 24.80 0a12.4 12.4 0 1 0 -24.80 0ZM1149.65 712.04a9.95 9.95 0 1 0 19.90 0a9.95 9.95 0 1 0 -19.90 0Z" fill-rule="evenodd" fill="#000" fill-opacity="0.77"/><circle cx="1159.60" cy="712.04" r="9.95" fill="rgb(239,176,188)" fill-opacity="0.75"/>
<path d="M1165.60 734.18a12.4 12.4 0 1 0 24.80 0a12.4 12.4 0 1 0 -24.80 0ZM1168.05 734.18a9.95 9.95 0 1 0 19.90 0a9.95 9.95 0 1 0 -19.90 0Z" fill-rule="evenodd" fill="#000" fill-opacity="0.77"/><circle cx="1178.00" cy="734.18" r="9.95" fill="rgb(239,176,188)" fill-opacity="0.75"/>
<path d="M1228.20 756.32a12.4 12.4 0 1 0 24.80 0a12.4 12.4 0 1 0 -24.80 0ZM1230.65 756.32a9.95 9.95 0 1 0 19.90 0a9.95 9.95 0 1 0 -19.90 0Z" fill-rule="evenodd" fill="#000" fill-opacity="0.77"/><circle cx="1240.60" cy="756.32" r="9.95" fill="rgb(239,176,188)" fill-opacity="0.75"/>
<path d="M1196.80 778.46a12.4 12.4 0 1 0 24.80 0a12.4 12.4 0 1 0 -24.80 0ZM1199.25 778.46a9.95 9.95 0 1 0 19.90 0a9.95 9.95 0 1 0 -19.90 0Z" fill-rule="evenodd" fill="#000" fill-opacity="0.77"/><circle cx="1209.20" cy="778.46" r="9.95" fill="rgb(239,176,188)" fill-opacity="0.75"/>
<path d="M1204.60 800.60a12.4 12.4 0 1 0 24.80 0a12.4 12.4 0 1 0 -24.80 0ZM1207.05 800.60a9.95 9.95 0 1 0 19.90 0a9.95 9.95 0 1 0 -19.90 0Z" fill-rule="evenodd" fill="#000" fill-opacity="0.77"/><circle cx="1217.00" cy="800.60" r="9.95" fill="rgb(239,176,188)" fill-opacity="0.75"/>
<path d="M1170.60 822.74a12.4 12.4 0 1 0 24.80 0a12.4 12.4 0 1 0 -24.80 0ZM1173.05 822.74a9.95 9.95 0 1 0 19.90 0a9.95 9.95 0 1 0 -19.90 0Z" fill-rule="evenodd" fill="#000" fill-opacity="0.77"/><circle cx="1183.00" cy="822.74" r="9.95" fill="rgb(239,176,188)" fill-opacity="0.75"/>
<path d="M1165.60 844.88a12.4 12.4 0 1 0 24.80 0a12.4 12.4 0 1 0 -24.80 0ZM1168.05 844.88a9.95 9.95 0 1 0 19.90 0a9.95 9.95 0 1 0 -19.90 0Z" fill-rule="evenodd" fill="#000" fill-opacity="0.77"/><circle cx="1178.00" cy="844.88" r="9.95" fill="rgb(239,176,188)" fill-opacity="0.75"/>
<path d="M1233.20 867.02a12.4 12.4 0 1 0 24.80 0a12.4 12.4 0 1 0 -24.80 0ZM1235.65 867.02a9.95 9.95 0 1 0 19.90 0a9.95 9.95 0 1 0 -19.90 0Z" fill-rule="evenodd" fill="#000" fill-opacity="0.77"/><circle cx="1245.60" cy="867.02" r="9.95" fill="rgb(239,176,188)" fill-opacity="0.75"/>
<path d="M1347.00 99.28L1362.50 114.28L1347.00 129.28L1331.50 114.28ZM1347.00 102.48L1359.19 114.28L1347.00 126.08L1334.81 114.28Z" fill-rule="evenodd" fill="#000" fill-opacity="0.77"/><path d="M1347.00 102.48L1359.19 114.28L1347.00 126.08L1334.81 114.28Z" fill="rgb(8,8,105)" fill-opacity="0.7"/>
<path d="M1222.40 121.42L1237.90 136.42L1222.40 151.42L1206.90 136.42ZM1222.40 124.62L1234.59 136.42L1222.40 148.22L1210.21 136.42Z" fill-rule="evenodd" fill="#000" fill-opacity="0.77"/><path d="M1222.40 124.62L1234.59 136.42L1222.40 148.22L1210.21 136.42Z" fill="rgb(8,8,105)" fill-opacity="0.7"/>
<path d="M1249.00 143.56L1264.50 158.56L1249.00 173.56L1233.50 158.56ZM1249.00 146.76L1261.19 158.56L1249.00 170.36L1236.81 158.56Z" fill-rule="evenodd" fill="#000" fill-opacity="0.77"/><path d="M1249.00 146.76L1261.19 158.56L1249.00 170.36L1236.81 158.56Z" fill="rgb(8,8,105)" fill-opacity="0.7"/>
<path d="M1232.00 165.70L1247.50 180.70L1232.00 195.70L1216.50 180.70ZM1232.00 168.90L1244.19 180.70L1232.00 192.50L1219.81 180.70Z" fill-rule="evenodd" fill="#000" fill-opacity="0.77"/><path d="M1232.00 168.90L1244.19 180.70L1232.00 192.50L1219.81 180.70Z" fill="rgb(8,8,105)" fill-opacity="0.7"/>
<path d="M1246.40 187.84L1261.90 202.84L1246.40 217.84L1230.90 202.84ZM1246.40 191.04L1258.59 202.84L1246.40 214.64L1234.21 202.84Z" fill-rule="evenodd" fill="#000" fill-opacity="0.77"/><path d="M1246.40 191.04L1258.59 202.84L1246.40 214.64L1234.21 202.84Z" fill="rgb(8,8,105)" fill-opacity="0.7"/>
<path d="M1386.00 209.98L1401.50 224.98L1386.00 239.98L1370.50 224.98ZM1386.00 213.18L1398.19 224.98L1386.00 236.78L1373.81 224.98Z" fill-rule="evenodd" fill="#000" fill-opacity="0.77"/><path d="M1386.00 213.18L1398.19 224.98L1386.00 236.78L1373.81 224.98Z" fill="rgb(8,8,105)" fill-opacity="0.7"/>
<path d="M1227.00 232.12L1242.50 247.12L1227.00 262.12L1211.50 247.12ZM1227.00 235.32L1239.19 247.12L1227.00 258.92L1214.81 247.12Z" fill-rule="evenodd" fill="#000" fill-opacity="0.77"/><path d="M1227.00 235.32L1239.19 247.12L1227.00 258.92L1214.81 247.12Z" fill="rgb(8,8,105)" fill-opacity="0.7"/>
<path d="M1209.00 254.26L1224.50 269.26L1209.00 284.26L1193.50 269.26ZM1209.00 257.46L1221.19 269.26L1209.00 281.06L1196.81 269.26Z" fill-rule="evenodd" fill="#000" fill-opacity="0.77"/><path d="M1209.00 257.46L1221.19 269.26L1209.00 281.06L1196.81 269.26Z" fill="rgb(8,8,105)" fill-opacity="0.7"/>
<path d="M1290.00 276.40L1305.50 291.40L1290.00 306.40L1274.50 291.40ZM1290.00 279.60L1302.19 291.40L1290.00 303.20L1277.81 291.40Z" fill-rule="evenodd" fill="#000" fill-opacity="0.77"/><path d="M1290.00 279.60L1302.19 291.40L1290.00 303.20L1277.81 291.40Z" fill="rgb(8,8,105)" fill-opacity="0.7"/>
<path d="M1163.60 298.54L1179.10 313.54L1163.60 328.54L1148.10 313.54ZM1163.60 301.74L1175.79 313.54L1163.60 325.34L1151.41 313.54Z" fill-rule="evenodd" fill="#000" fill-opacity="0.77"/><path d="M1163.60 301.74L1175.79 313.54L1163.60 325.34L1151.41 313.54Z" fill="rgb(8,8,105)" fill-opacity="0.7"/>
<path d="M1262.00 320.68L1277.50 335.68L1262.00 350.68L1246.50 335.68ZM1262.00 323.88L1274.19 335.68L1262.00 347.47L1249.81 335.68Z" fill-rule="evenodd" fill="#000" fill-opacity="0.77"/><path d="M1262.00 323.88L1274.19 335.68L1262.00 347.47L1249.81 335.68Z" fill="rgb(8,8,105)" fill-opacity="0.7"/>
<path d="M1230.60 342.81L1246.10 357.81L1230.60 372.81L1215.10 357.81ZM1230.60 346.02L1242.79 357.81L1230.60 369.61L1218.41 357.81Z" fill-rule="evenodd" fill="#000" fill-opacity="0.77"/><path d="M1230.60 346.02L1242.79 357.81L1230.60 369.61L1218.41 357.81Z" fill="rgb(8,8,105)" fill-opacity="0.7"/>
<path d="M1176.00 364.95L1191.50 379.95L1176.00 394.95L1160.50 379.95ZM1176.00 368.15L1188.19 379.95L1176.00 391.75L1163.81 379.95Z" fill-rule="evenodd" fill="#000" fill-opacity="0.77"/><path d="M1176.00 368.15L1188.19 379.95L1176.00 391.75L1163.81 379.95Z" fill="rgb(8,8,105)" fill-opacity="0.7"/>
<path d="M1229.40 387.09L1244.90 402.09L1229.40 417.09L1213.90 402.09ZM1229.40 390.29L1241.59 402.09L1229.40 413.89L1217.21 402.09Z" fill-rule="evenodd" fill="#000" fill-opacity="0.77"/><path d="M1229.40 390.29L1241.59 402.09L1229.40 413.89L1217.21 402.09Z" fill="rgb(8,8,105)" fill-opacity="0.7"/>
<path d="M1202.00 409.23L1217.50 424.23L1202.00 439.23L1186.50 424.23ZM1202.00 412.43L1214.19 424.23L1202.00 436.03L1189.81 424.23Z" fill-rule="evenodd" fill="#000" fill-opacity="0.77"/><path d="M1202.00 412.43L1214.19 424.23L1202.00 436.03L1189.81 424.23Z" fill="rgb(8,8,105)" fill-opacity="0.7"/>
<path d="M1177.60 431.37L1193.10 446.37L1177.60 461.37L1162.10 446.37ZM1177.60 434.57L1189.79 446.37L1177.60 458.17L1165.41 446.37Z" fill-rule="evenodd" fill="#000" fill-opacity="0.77"/><path d="M1177.60 434.57L1189.79 446.37L1177.60 458.17L1165.41 446.37Z" fill="rgb(8,8,105)" fill-opacity="0.7"/>
<path d="M1221.00 453.51L1236.50 468.51L1221.00 483.51L1205.50 468.51ZM1221.00 456.71L1233.19 468.51L1221.00 480.31L1208.81 468.51Z" fill-rule="evenodd" fill="#000" fill-opacity="0.77"/><path d="M1221.00 456.71L1233.19 468.51L1221.00 480.31L1208.81 468.51Z" fill="rgb(8,8,105)" fill-opacity="0.7"/>
<path d="M1159.00 475.65L1174.50 490.65L1159.00 505.65L1143.50 490.65ZM1159.00 478.85L1171.19 490.65L1159.00 502.45L1146.81 490.65Z" fill-rule="evenodd" fill="#000" fill-opacity="0.77"/><path d="M1159.00 478.85L1171.19 490.65L1159.00 502.45L1146.81 490.65Z" fill="rgb(8,8,105)" fill-opacity="0.7"/>
<path d="M1218.00 497.79L1233.50 512.79L1218.00 527.79L1202.50 512.79ZM1218.00 500.99L1230.19 512.79L1218.00 524.59L1205.81 512.79Z" fill-rule="evenodd" fill="#000" fill-opacity="0.77"/><path d="M1218.00 500.99L1230.19 512.79L1218.00 524.59L1205.81 512.79Z" fill="rgb(8,8,105)" fill-opacity="0.7"/>
<path d="M1198.00 519.93L1213.50 534.93L1198.00 549.93L1182.50 534.93ZM1198.00 523.13L1210.19 534.93L1198.00 546.73L1185.81 534.93Z" fill-rule="evenodd" fill="#000" fill-opacity="0.77"/><path d="M1198.00 523.13L1210.19 534.93L1198.00 546.73L1185.81 534.93Z" fill="rgb(8,8,105)" fill-opacity="0.7"/>
<path d="M1160.00 542.07L1175.50 557.07L1160.00 572.07L1144.50 557.07ZM1160.00 545.27L1172.19 557.07L1160.00 568.87L1147.81 557.07Z" fill-rule="evenodd" fill="#000" fill-opacity="0.77"/><path d="M1160.00 545.27L1172.19 557.07L1160.00 568.87L1147.81 557.07Z" fill="rgb(8,8,105)" fill-opacity="0.7"/>
<path d="M1251.00 564.21L1266.50 579.21L1251.00 594.21L1235.50 579.21ZM1251.00 567.41L1263.19 579.21L1251.00 591.01L1238.81 579.21Z" fill-rule="evenodd" fill="#000" fill-opacity="0.77"/><path d="M1251.00 567.41L1263.19 579.21L1251.00 591.01L1238.81 579.21Z" fill="rgb(8,8,105)" fill-opacity="0.7"/>
<path d="M1229.60 586.35L1245.10 601.35L1229.60 616.35L1214.10 601.35ZM1229.60 589.55L1241.79 601.35L1229.60 613.15L1217.41 601.35Z" fill-rule="evenodd" fill="#000" fill-opacity="0.77"/><path d="M1229.60 589.55L1241.79 601.35L1229.60 613.15L1217.41 601.35Z" fill="rgb(8,8,105)" fill-opacity="0.7"/>
<path d="M1197.00 608.49L1212.50 623.49L1197.00 638.49L1181.50 623.49ZM1197.00 611.69L1209.19 623.49L1197.00 635.28L1184.81 623.49Z" fill-rule="evenodd" fill="#000" fill-opacity="0.77"/><path d="M1197.00 611.69L1209.19 623.49L1197.00 635.28L1184.81 623.49Z" fill="rgb(8,8,105)" fill-opacity="0.7"/>
<path d="M1222.00 630.62L1237.50 645.62L1222.00 660.62L1206.50 645.62ZM1222.00 633.83L1234.19 645.62L1222.00 657.42L1209.81 645.62Z" fill-rule="evenodd" fill="#000" fill-opacity="0.77"/><path d="M1222.00 633.83L1234.19 645.62L1222.00 657.42L1209.81 645.62Z" fill="rgb(8,8,105)" fill-opacity="0.7"/>
<path d="M1235.60 652.76L1251.10 667.76L1235.60 682.76L1220.10 667.76ZM1235.60 655.96L1247.79 667.76L1235.60 679.56L1223.41 667.76Z" fill-rule="evenodd" fill="#000" fill-opacity="0.77"/><path d="M1235.60 655.96L1247.79 667.76L1235.60 679.56L1223.41 667.76Z" fill="rgb(8,8,105)" fill-opacity="0.7"/>
<path d="M1188.40 674.90L1203.90 689.90L1188.40 704.90L1172.90 689.90ZM1188.40 678.10L1200.59 689.90L1188.40 701.70L1176.21 689.90Z" fill-rule="evenodd" fill="#000" fill-opacity="0.77"/><path d="M1188.40 678.10L1200.59 689.90L1188.40 701.70L1176.21 689.90Z" fill="rgb(8,8,105)" fill-opacity="0.7"/>
<path d="M1176.40 697.04L1191.90 712.04L1176.40 727.04L1160.90 712.04ZM1176.40 700.24L1188.59 712.04L1176.40 723.84L1164.21 712.04Z" fill-rule="evenodd" fill="#000" fill-opacity="0.77"/><path d="M1176.40 700.24L1188.59 712.04L1176.40 723.84L1164.21 712.04Z" fill="rgb(8,8,105)" fill-opacity="0.7"/>
<path d="M1197.00 719.18L1212.50 734.18L1197.00 749.18L1181.50 734.18ZM1197.00 722.38L1209.19 734.18L1197.00 745.98L1184.81 734.18Z" fill-rule="evenodd" fill="#000" fill-opacity="0.77"/><path d="M1197.00 722.38L1209.19 734.18L1197.00 745.98L1184.81 734.18Z" fill="rgb(8,8,105)" fill-opacity="0.7"/>
<path d="M1329.40 741.32L1344.90 756.32L1329.40 771.32L1313.90 756.32ZM1329.40 744.52L1341.59 756.32L1329.40 768.12L1317.21 756.32Z" fill-rule="evenodd" fill="#000" fill-opacity="0.77"/><path d="M1329.40 744.52L1341.59 756.32L1329.40 768.12L1317.21 756.32Z" fill="rgb(8,8,105)" fill-opacity="0.7"/>
<path d="M1254.40 763.46L1269.90 778.46L1254.40 793.46L1238.90 778.46ZM1254.40 766.66L1266.59 778.46L1254.40 790.26L1242.21 778.46Z" fill-rule="evenodd" fill="#000" fill-opacity="0.77"/><path d="M1254.40 766.66L1266.59 778.46L1254.40 790.26L1242.21 778.46Z" fill="rgb(8,8,105)" fill-opacity="0.7"/>
<path d="M1268.40 785.60L1283.90 800.60L1268.40 815.60L1252.90 800.60ZM1268.40 788.80L1280.59 800.60L1268.40 812.40L1256.21 800.60Z" fill-rule="evenodd" fill="#000" fill-opacity="0.77"/><path d="M1268.40 788.80L1280.59 800.60L1268.40 812.40L1256.21 800.60Z" fill="rgb(8,8,105)" fill-opacity="0.7"/>
<path d="M1202.00 807.74L1217.50 822.74L1202.00 837.74L1186.50 822.74ZM1202.00 810.94L1214.19 822.74L1202.00 834.54L1189.81 822.74Z" fill-rule="evenodd" fill="#000" fill-opacity="0.77"/><path d="M1202.00 810.94L1214.19 822.74L1202.00 834.54L1189.81 822.74Z" fill="rgb(8,8,105)" fill-opacity="0.7"/>
<path d="M1196.00 829.88L1211.50 844.88L1196.00 859.88L1180.50 844.88ZM1196.00 833.08L1208.19 844.88L1196.00 856.68L1183.81 844.88Z" fill-rule="evenodd" fill="#000" fill-opacity="0.77"/><path d="M1196.00 833.08L1208.19 844.88L1196.00 856.68L1183.81 844.88Z" fill="rgb(8,8,105)" fill-opacity="0.7"/>
<path d="M1294.60 852.02L1310.10 867.02L1294.60 882.02L1279.10 867.02ZM1294.60 855.22L1306.79 867.02L1294.60 878.82L1282.41 867.02Z" fill-rule="evenodd" fill="#000" fill-opacity="0.77"/><path d="M1294.60 855.22L1306.79 867.02L1294.60 878.82L1282.41 867.02Z" fill="rgb(8,8,105)" fill-opacity="0.7"/>
<rect x="1051" y="100.10" width="432.10" height="2.8" fill="#777777"/>
<rect x="1480.90" y="101.0" width="2.2" height="779.30" fill="#777777"/>
<rect x="1049.1" y="98.5" width="3.8" height="783.6999999999999" fill="#000"/>
<rect x="1049.1" y="878.4" width="435.10000000000014" height="3.8" fill="#000"/>
<rect x="1042.4" y="112.38" width="8.6" height="3.8" fill="#000"/>
<rect x="1042.4" y="134.52" width="8.6" height="3.8" fill="#000"/>
<rect x="1042.4" y="156.66" width="8.6" height="3.8" fill="#000"/>
<rect x="1042.4" y="178.80" width="8.6" height="3.8" fill="#000"/>
<rect x="1042.4" y="200.94" width="8.6" height="3.8" fill="#000"/>
<rect x="1042.4" y="223.08" width="8.6" height="3.8" fill="#000"/>
<rect x="1042.4" y="245.22" width="8.6" height="3.8" fill="#000"/>
<rect x="1042.4" y="267.36" width="8.6" height="3.8" fill="#000"/>
<rect x="1042.4" y="289.50" width="8.6" height="3.8" fill="#000"/>
<rect x="1042.4" y="311.64" width="8.6" height="3.8" fill="#000"/>
<rect x="1042.4" y="333.78" width="8.6" height="3.8" fill="#000"/>
<rect x="1042.4" y="355.91" width="8.6" height="3.8" fill="#000"/>
<rect x="1042.4" y="378.05" width="8.6" height="3.8" fill="#000"/>
<rect x="1042.4" y="400.19" width="8.6" height="3.8" fill="#000"/>
<rect x="1042.4" y="422.33" width="8.6" height="3.8" fill="#000"/>
<rect x="1042.4" y="444.47" width="8.6" height="3.8" fill="#000"/>
<rect x="1042.4" y="466.61" width="8.6" height="3.8" fill="#000"/>
<rect x="1042.4" y="488.75" width="8.6" height="3.8" fill="#000"/>
<rect x="1042.4" y="510.89" width="8.6" height="3.8" fill="#000"/>
<rect x="1042.4" y="533.03" width="8.6" height="3.8" fill="#000"/>
<rect x="1042.4" y="555.17" width="8.6" height="3.8" fill="#000"/>
<rect x="1042.4" y="577.31" width="8.6" height="3.8" fill="#000"/>
<rect x="1042.4" y="599.45" width="8.6" height="3.8" fill="#000"/>
<rect x="1042.4" y="621.59" width="8.6" height="3.8" fill="#000"/>
<rect x="1042.4" y="643.72" width="8.6" height="3.8" fill="#000"/>
<rect x="1042.4" y="665.86" width="8.6" height="3.8" fill="#000"/>
<rect x="1042.4" y="688.00" width="8.6" height="3.8" fill="#000"/>
<rect x="1042.4" y="710.14" width="8.6" height="3.8" fill="#000"/>
<rect x="1042.4" y="732.28" width="8.6" height="3.8" fill="#000"/>
<rect x="1042.4" y="754.42" width="8.6" height="3.8" fill="#000"/>
<rect x="1042.4" y="776.56" width="8.6" height="3.8" fill="#000"/>
<rect x="1042.4" y="798.70" width="8.6" height="3.8" fill="#000"/>
<rect x="1042.4" y="820.84" width="8.6" height="3.8" fill="#000"/>
<rect x="1042.4" y="842.98" width="8.6" height="3.8" fill="#000"/>
<rect x="1042.4" y="865.12" width="8.6" height="3.8" fill="#000"/>
<rect x="1068.70" y="880.3" width="3.8" height="8.6" fill="#000"/>
<rect x="1147.10" y="880.3" width="3.8" height="8.6" fill="#000"/>
<rect x="1225.50" y="880.3" width="3.8" height="8.6" fill="#000"/>
<rect x="1303.90" y="880.3" width="3.8" height="8.6" fill="#000"/>
<rect x="1382.30" y="880.3" width="3.8" height="8.6" fill="#000"/>
<rect x="1460.70" y="880.3" width="3.8" height="8.6" fill="#000"/>
<text x="941.24 957.92 977.24 996.56 1015.88" y="126.48" class="lbl">Japan</text>
<text x="930.92 959.86 979.18 996.56 1015.88" y="148.62" class="lbl">Macau</text>
<text x="898.98 927.93 947.25 954.96 974.28 982.00 998.50 1017.83" y="170.76" class="lbl">Maldives</text>
<text x="843.41 866.59 885.91 905.24 914.90 934.22 943.88 965.67 984.99 996.56 1015.88" y="192.90" class="lbl">South Korea</text>
<text x="862.74 887.83 907.15 926.47 945.79 955.45 977.24 996.56 1015.88" y="215.04" class="lbl">Hong Kong</text>
<text x="944.43 969.52 988.84 996.56 1015.88" y="237.18" class="lbl">China</text>
<text x="927.89 944.95 964.28 971.99 996.56 1015.88" y="259.32" class="lbl">Taiwan</text>
<text x="894.22 923.17 942.49 961.81 981.13 1000.45 1008.16 1015.88" y="281.46" class="lbl">Mongolia</text>
<text x="851.69 874.86 894.18 913.51 932.83 940.54 959.86 979.18 998.50 1015.88" y="303.60" class="lbl">Bangladesh</text>
<text x="924.63 949.72 967.09 986.41 998.50 1017.83" y="325.74" class="lbl">Cyprus</text>
<text x="907.74 930.92 938.63 957.95 967.61 986.93 1006.25" y="347.88" class="lbl">Vietnam</text>
<text x="948.29 975.33 994.65 1004.31 1023.63" y="370.01" class="lbl">Qatar</text>
<text x="876.81 899.99 907.70 927.02 946.34 965.67 984.99 1004.31 1015.88" y="392.15" class="lbl">Singapore</text>
<text x="863.33 888.42 905.79 925.11 944.43 961.81 969.52 986.90 996.56 1015.88" y="414.29" class="lbl">Uzbekistan</text>
<text x="901.93 923.17 942.49 961.81 969.52 977.24 996.56 1015.88" y="436.43" class="lbl">Thailand</text>
<text x="899.95 919.27 938.60 957.92 977.24 996.56 1015.88" y="458.57" class="lbl">Lebanon</text>
<text x="867.18 890.36 909.68 917.40 925.11 932.83 952.15 971.47 979.18 998.50 1017.83" y="480.71" class="lbl">Philippines</text>
<text x="932.48 954.61 973.94 998.50 1017.83 1025.54" y="502.85" class="lbl">Kuwait</text>
<text x="934.04 951.11 970.43 982.52 999.20 1017.83" y="524.99" class="lbl">Turkey</text>
<text x="899.15 928.10 947.42 955.14 973.41 990.79 1008.16 1015.88" y="547.13" class="lbl">Malaysia</text>
<text x="893.66 915.45 934.77 942.49 961.81 979.18 988.84 996.56 1015.88" y="569.27" class="lbl">Palestine</text>
<text x="911.59 938.63 957.95 977.27 988.84 1008.16 1015.88" y="591.41" class="lbl">Georgia</text>
<text x="959.86 969.52 988.84 1008.16 1015.88" y="613.55" class="lbl">India</text>
<text x="904.96 928.14 940.58 969.52 988.84 1008.16 1015.88" y="635.69" class="lbl">Armenia</text>
<text x="975.67 985.33 996.56 1015.88" y="657.82" class="lbl">Iran</text>
<text x="891.09 920.04 936.72 956.04 975.36 1004.31 1023.63" y="679.96" class="lbl">Myanmar</text>
<text x="929.98 948.29 967.61 996.56 1015.88" y="702.10" class="lbl">Yemen</text>
<text x="853.63 876.81 896.13 913.51 932.83 950.20 969.52 986.90 996.56 1015.88" y="724.24" class="lbl">Kazakhstan</text>
<text x="871.56 894.74 911.59 930.92 942.49 961.81 981.13 988.84 996.56 1015.88" y="746.38" class="lbl">Azerbaijan</text>
<text x="928.97 946.34 965.67 977.24 996.56 1015.88" y="768.52" class="lbl">Jordan</text>
<text x="975.67 985.33 996.56 1015.88" y="790.66" class="lbl">Iraq</text>
<text x="903.32 925.11 944.43 961.81 969.52 986.90 996.56 1015.88" y="812.80" class="lbl">Pakistan</text>
<text x="892.62 909.68 929.00 936.72 944.43 961.81 969.52 986.90 996.56 1015.88" y="834.94" class="lbl">Tajikistan</text>
<text x="865.06 886.50 903.88 915.45 934.77 952.15 969.52 986.90 996.56 1015.88" y="857.08" class="lbl">Kyrgyzstan</text>
<text x="884.52 894.18 913.51 932.83 952.15 971.47 990.79 1008.16 1015.88" y="879.22" class="lbl">Indonesia</text>
<text x="1046.45 1065.77 1075.43" y="921.30" class="lbl">0.0</text>
<text x="1124.85 1144.17 1153.83" y="921.30" class="lbl">0.1</text>
<text x="1203.25 1222.57 1232.23" y="921.30" class="lbl">0.2</text>
<text x="1281.65 1300.97 1310.63" y="921.30" class="lbl">0.3</text>
<text x="1360.05 1379.37 1389.03" y="921.30" class="lbl">0.4</text>
<text x="1438.45 1457.77 1467.43" y="921.30" class="lbl">0.5</text>
<text x="1058.40 1084.39 1101.74 1119.08 1136.43 1145.10 1167.63" y="961.10" class="axt">Mean CF</text>
<text x="1187.89 1202.17" y="965.90" class="sub">ST</text>
<text x="1223.92 1232.59 1242.98 1260.33 1286.32 1294.99 1312.34 1329.69 1345.29 1362.63 1371.31 1386.91 1404.25 1421.60 1438.95 1447.62 1458.95" y="961.10" class="axt">from each country</text>
<text x="1050.60 1078.03 1098.59 1107.72" y="29.90" class="ttl">Asia</text>
<line x1="328" x2="759" y1="1127.26" y2="1127.26" stroke="#d3d3d3" stroke-width="3.3"/>
<line x1="328" x2="759" y1="1156.53" y2="1156.53" stroke="#d3d3d3" stroke-width="3.3"/>
<line x1="328" x2="759" y1="1185.80" y2="1185.80" stroke="#d3d3d3" stroke-width="3.3"/>
<line x1="328" x2="759" y1="1215.06" y2="1215.06" stroke="#d3d3d3" stroke-width="3.3"/>
<line x1="328" x2="759" y1="1244.33" y2="1244.33" stroke="#d3d3d3" stroke-width="3.3"/>
<line x1="328" x2="759" y1="1273.60" y2="1273.60" stroke="#d3d3d3" stroke-width="3.3"/>
<line x1="328" x2="759" y1="1302.87" y2="1302.87" stroke="#d3d3d3" stroke-width="3.3"/>
<line x1="328" x2="759" y1="1332.13" y2="1332.13" stroke="#d3d3d3" stroke-width="3.3"/>
<line x1="328" x2="759" y1="1361.40" y2="1361.40" stroke="#d3d3d3" stroke-width="3.3"/>
<line x1="328" x2="759" y1="1390.67" y2="1390.67" stroke="#d3d3d3" stroke-width="3.3"/>
<line x1="328" x2="759" y1="1419.94" y2="1419.94" stroke="#d3d3d3" stroke-width="3.3"/>
<line x1="328" x2="759" y1="1449.20" y2="1449.20" stroke="#d3d3d3" stroke-width="3.3"/>
<line x1="328" x2="759" y1="1478.47" y2="1478.47" stroke="#d3d3d3" stroke-width="3.3"/>
<line x1="328" x2="759" y1="1507.74" y2="1507.74" stroke="#d3d3d3" stroke-width="3.3"/>
<rect x="449.10" y="1117.76" width="42.60" height="19" fill="#d3d3d3"/>
<rect x="426.70" y="1147.03" width="27.60" height="19" fill="#d3d3d3"/>
<rect x="519.10" y="1176.30" width="62.80" height="19" fill="#d3d3d3"/>
<rect x="430.40" y="1205.56" width="23.10" height="19" fill="#d3d3d3"/>
<rect x="446.90" y="1234.83" width="30.10" height="19" fill="#d3d3d3"/>
<rect x="426.40" y="1264.10" width="24.20" height="19" fill="#d3d3d3"/>
<rect x="426.10" y="1293.37" width="28.20" height="19" fill="#d3d3d3"/>
<rect x="444.40" y="1322.63" width="38.50" height="19" fill="#d3d3d3"/>
<rect x="420.10" y="1351.90" width="22.20" height="19" fill="#d3d3d3"/>
<rect x="438.90" y="1381.17" width="33.30" height="19" fill="#d3d3d3"/>
<rect x="463.80" y="1410.44" width="44.10" height="19" fill="#d3d3d3"/>
<rect x="440.80" y="1439.70" width="37.70" height="19" fill="#d3d3d3"/>
<rect x="442.80" y="1468.97" width="43.80" height="19" fill="#d3d3d3"/>
<rect x="433.00" y="1498.24" width="44.70" height="19" fill="#d3d3d3"/>
<circle cx="449.10" cy="1127.26" r="12.1" fill="#fff"/>
<circle cx="426.70" cy="1156.53" r="12.1" fill="#fff"/>
<circle cx="519.10" cy="1185.80" r="12.1" fill="#fff"/>
<circle cx="430.40" cy="1215.06" r="12.1" fill="#fff"/>
<circle cx="446.90" cy="1244.33" r="12.1" fill="#fff"/>
<circle cx="426.40" cy="1273.60" r="12.1" fill="#fff"/>
<circle cx="426.10" cy="1302.87" r="12.1" fill="#fff"/>
<circle cx="444.40" cy="1332.13" r="12.1" fill="#fff"/>
<circle cx="420.10" cy="1361.40" r="12.1" fill="#fff"/>
<circle cx="438.90" cy="1390.67" r="12.1" fill="#fff"/>
<circle cx="463.80" cy="1419.94" r="12.1" fill="#fff"/>
<circle cx="440.80" cy="1449.20" r="12.1" fill="#fff"/>
<circle cx="442.80" cy="1478.47" r="12.1" fill="#fff"/>
<circle cx="433.00" cy="1507.74" r="12.1" fill="#fff"/>
<path d="M473.30 1112.26L488.80 1127.26L473.30 1142.26L457.80 1127.26ZM473.30 1115.46L485.49 1127.26L473.30 1139.06L461.11 1127.26Z" fill-rule="evenodd" fill="#000" fill-opacity="0.77"/><path d="M473.30 1115.46L485.49 1127.26L473.30 1139.06L461.11 1127.26Z" fill="rgb(176,19,19)" fill-opacity="0.7"/>
<path d="M447.60 1141.53L463.10 1156.53L447.60 1171.53L432.10 1156.53ZM447.60 1144.73L459.79 1156.53L447.60 1168.33L435.41 1156.53Z" fill-rule="evenodd" fill="#000" fill-opacity="0.77"/><path d="M447.60 1144.73L459.79 1156.53L447.60 1168.33L435.41 1156.53Z" fill="rgb(176,19,19)" fill-opacity="0.7"/>
<path d="M575.60 1170.80L591.10 1185.80L575.60 1200.80L560.10 1185.80ZM575.60 1174.00L587.79 1185.80L575.60 1197.60L563.41 1185.80Z" fill-rule="evenodd" fill="#000" fill-opacity="0.77"/><path d="M575.60 1174.00L587.79 1185.80L575.60 1197.60L563.41 1185.80Z" fill="rgb(176,19,19)" fill-opacity="0.7"/>
<path d="M448.10 1200.06L463.60 1215.06L448.10 1230.06L432.60 1215.06ZM448.10 1203.26L460.29 1215.06L448.10 1226.86L435.91 1215.06Z" fill-rule="evenodd" fill="#000" fill-opacity="0.77"/><path d="M448.10 1203.26L460.29 1215.06L448.10 1226.86L435.91 1215.06Z" fill="rgb(176,19,19)" fill-opacity="0.7"/>
<path d="M477.00 1229.33L492.50 1244.33L477.00 1259.33L461.50 1244.33ZM477.00 1232.53L489.19 1244.33L477.00 1256.13L464.81 1244.33Z" fill-rule="evenodd" fill="#000" fill-opacity="0.77"/><path d="M477.00 1232.53L489.19 1244.33L477.00 1256.13L464.81 1244.33Z" fill="rgb(176,19,19)" fill-opacity="0.7"/>
<path d="M450.60 1258.60L466.10 1273.60L450.60 1288.60L435.10 1273.60ZM450.60 1261.80L462.79 1273.60L450.60 1285.40L438.41 1273.60Z" fill-rule="evenodd" fill="#000" fill-opacity="0.77"/><path d="M450.60 1261.80L462.79 1273.60L450.60 1285.40L438.41 1273.60Z" fill="rgb(176,19,19)" fill-opacity="0.7"/>
<path d="M454.30 1287.87L469.80 1302.87L454.30 1317.87L438.80 1302.87ZM454.30 1291.07L466.49 1302.87L454.30 1314.67L442.11 1302.87Z" fill-rule="evenodd" fill="#000" fill-opacity="0.77"/><path d="M454.30 1291.07L466.49 1302.87L454.30 1314.67L442.11 1302.87Z" fill="rgb(176,19,19)" fill-opacity="0.7"/>
<path d="M482.90 1317.13L498.40 1332.13L482.90 1347.13L467.40 1332.13ZM482.90 1320.33L495.09 1332.13L482.90 1343.93L470.71 1332.13Z" fill-rule="evenodd" fill="#000" fill-opacity="0.77"/><path d="M482.90 1320.33L495.09 1332.13L482.90 1343.93L470.71 1332.13Z" fill="rgb(176,19,19)" fill-opacity="0.7"/>
<path d="M442.30 1346.40L457.80 1361.40L442.30 1376.40L426.80 1361.40ZM442.30 1349.60L454.49 1361.40L442.30 1373.20L430.11 1361.40Z" fill-rule="evenodd" fill="#000" fill-opacity="0.77"/><path d="M442.30 1349.60L454.49 1361.40L442.30 1373.20L430.11 1361.40Z" fill="rgb(176,19,19)" fill-opacity="0.7"/>
<path d="M472.20 1375.67L487.70 1390.67L472.20 1405.67L456.70 1390.67ZM472.20 1378.87L484.39 1390.67L472.20 1402.47L460.01 1390.67Z" fill-rule="evenodd" fill="#000" fill-opacity="0.77"/><path d="M472.20 1378.87L484.39 1390.67L472.20 1402.47L460.01 1390.67Z" fill="rgb(176,19,19)" fill-opacity="0.7"/>
<path d="M507.90 1404.94L523.40 1419.94L507.90 1434.94L492.40 1419.94ZM507.90 1408.14L520.09 1419.94L507.90 1431.74L495.71 1419.94Z" fill-rule="evenodd" fill="#000" fill-opacity="0.77"/><path d="M507.90 1408.14L520.09 1419.94L507.90 1431.74L495.71 1419.94Z" fill="rgb(176,19,19)" fill-opacity="0.7"/>
<path d="M478.50 1434.20L494.00 1449.20L478.50 1464.20L463.00 1449.20ZM478.50 1437.40L490.69 1449.20L478.50 1461.00L466.31 1449.20Z" fill-rule="evenodd" fill="#000" fill-opacity="0.77"/><path d="M478.50 1437.40L490.69 1449.20L478.50 1461.00L466.31 1449.20Z" fill="rgb(176,19,19)" fill-opacity="0.7"/>
<path d="M486.60 1463.47L502.10 1478.47L486.60 1493.47L471.10 1478.47ZM486.60 1466.67L498.79 1478.47L486.60 1490.27L474.41 1478.47Z" fill-rule="evenodd" fill="#000" fill-opacity="0.77"/><path d="M486.60 1466.67L498.79 1478.47L486.60 1490.27L474.41 1478.47Z" fill="rgb(176,19,19)" fill-opacity="0.7"/>
<path d="M477.70 1492.74L493.20 1507.74L477.70 1522.74L462.20 1507.74ZM477.70 1495.94L489.89 1507.74L477.70 1519.54L465.51 1507.74Z" fill-rule="evenodd" fill="#000" fill-opacity="0.77"/><path d="M477.70 1495.94L489.89 1507.74L477.70 1519.54L465.51 1507.74Z" fill="rgb(176,19,19)" fill-opacity="0.7"/>
<path d="M436.70 1127.26a12.4 12.4 0 1 0 24.80 0a12.4 12.4 0 1 0 -24.80 0ZM439.15 1127.26a9.95 9.95 0 1 0 19.90 0a9.95 9.95 0 1 0 -19.90 0Z" fill-rule="evenodd" fill="#000" fill-opacity="0.77"/><circle cx="449.10" cy="1127.26" r="9.95" fill="rgb(239,176,188)" fill-opacity="0.75"/>
<path d="M414.30 1156.53a12.4 12.4 0 1 0 24.80 0a12.4 12.4 0 1 0 -24.80 0ZM416.75 1156.53a9.95 9.95 0 1 0 19.90 0a9.95 9.95 0 1 0 -19.90 0Z" fill-rule="evenodd" fill="#000" fill-opacity="0.77"/><circle cx="426.70" cy="1156.53" r="9.95" fill="rgb(239,176,188)" fill-opacity="0.75"/>
<path d="M506.70 1185.80a12.4 12.4 0 1 0 24.80 0a12.4 12.4 0 1 0 -24.80 0ZM509.15 1185.80a9.95 9.95 0 1 0 19.90 0a9.95 9.95 0 1 0 -19.90 0Z" fill-rule="evenodd" fill="#000" fill-opacity="0.77"/><circle cx="519.10" cy="1185.80" r="9.95" fill="rgb(239,176,188)" fill-opacity="0.75"/>
<path d="M418.00 1215.06a12.4 12.4 0 1 0 24.80 0a12.4 12.4 0 1 0 -24.80 0ZM420.45 1215.06a9.95 9.95 0 1 0 19.90 0a9.95 9.95 0 1 0 -19.90 0Z" fill-rule="evenodd" fill="#000" fill-opacity="0.77"/><circle cx="430.40" cy="1215.06" r="9.95" fill="rgb(239,176,188)" fill-opacity="0.75"/>
<path d="M434.50 1244.33a12.4 12.4 0 1 0 24.80 0a12.4 12.4 0 1 0 -24.80 0ZM436.95 1244.33a9.95 9.95 0 1 0 19.90 0a9.95 9.95 0 1 0 -19.90 0Z" fill-rule="evenodd" fill="#000" fill-opacity="0.77"/><circle cx="446.90" cy="1244.33" r="9.95" fill="rgb(239,176,188)" fill-opacity="0.75"/>
<path d="M414.00 1273.60a12.4 12.4 0 1 0 24.80 0a12.4 12.4 0 1 0 -24.80 0ZM416.45 1273.60a9.95 9.95 0 1 0 19.90 0a9.95 9.95 0 1 0 -19.90 0Z" fill-rule="evenodd" fill="#000" fill-opacity="0.77"/><circle cx="426.40" cy="1273.60" r="9.95" fill="rgb(239,176,188)" fill-opacity="0.75"/>
<path d="M413.70 1302.87a12.4 12.4 0 1 0 24.80 0a12.4 12.4 0 1 0 -24.80 0ZM416.15 1302.87a9.95 9.95 0 1 0 19.90 0a9.95 9.95 0 1 0 -19.90 0Z" fill-rule="evenodd" fill="#000" fill-opacity="0.77"/><circle cx="426.10" cy="1302.87" r="9.95" fill="rgb(239,176,188)" fill-opacity="0.75"/>
<path d="M432.00 1332.13a12.4 12.4 0 1 0 24.80 0a12.4 12.4 0 1 0 -24.80 0ZM434.45 1332.13a9.95 9.95 0 1 0 19.90 0a9.95 9.95 0 1 0 -19.90 0Z" fill-rule="evenodd" fill="#000" fill-opacity="0.77"/><circle cx="444.40" cy="1332.13" r="9.95" fill="rgb(239,176,188)" fill-opacity="0.75"/>
<path d="M407.70 1361.40a12.4 12.4 0 1 0 24.80 0a12.4 12.4 0 1 0 -24.80 0ZM410.15 1361.40a9.95 9.95 0 1 0 19.90 0a9.95 9.95 0 1 0 -19.90 0Z" fill-rule="evenodd" fill="#000" fill-opacity="0.77"/><circle cx="420.10" cy="1361.40" r="9.95" fill="rgb(239,176,188)" fill-opacity="0.75"/>
<path d="M426.50 1390.67a12.4 12.4 0 1 0 24.80 0a12.4 12.4 0 1 0 -24.80 0ZM428.95 1390.67a9.95 9.95 0 1 0 19.90 0a9.95 9.95 0 1 0 -19.90 0Z" fill-rule="evenodd" fill="#000" fill-opacity="0.77"/><circle cx="438.90" cy="1390.67" r="9.95" fill="rgb(239,176,188)" fill-opacity="0.75"/>
<path d="M451.40 1419.94a12.4 12.4 0 1 0 24.80 0a12.4 12.4 0 1 0 -24.80 0ZM453.85 1419.94a9.95 9.95 0 1 0 19.90 0a9.95 9.95 0 1 0 -19.90 0Z" fill-rule="evenodd" fill="#000" fill-opacity="0.77"/><circle cx="463.80" cy="1419.94" r="9.95" fill="rgb(239,176,188)" fill-opacity="0.75"/>
<path d="M428.40 1449.20a12.4 12.4 0 1 0 24.80 0a12.4 12.4 0 1 0 -24.80 0ZM430.85 1449.20a9.95 9.95 0 1 0 19.90 0a9.95 9.95 0 1 0 -19.90 0Z" fill-rule="evenodd" fill="#000" fill-opacity="0.77"/><circle cx="440.80" cy="1449.20" r="9.95" fill="rgb(239,176,188)" fill-opacity="0.75"/>
<path d="M430.40 1478.47a12.4 12.4 0 1 0 24.80 0a12.4 12.4 0 1 0 -24.80 0ZM432.85 1478.47a9.95 9.95 0 1 0 19.90 0a9.95 9.95 0 1 0 -19.90 0Z" fill-rule="evenodd" fill="#000" fill-opacity="0.77"/><circle cx="442.80" cy="1478.47" r="9.95" fill="rgb(239,176,188)" fill-opacity="0.75"/>
<path d="M420.60 1507.74a12.4 12.4 0 1 0 24.80 0a12.4 12.4 0 1 0 -24.80 0ZM423.05 1507.74a9.95 9.95 0 1 0 19.90 0a9.95 9.95 0 1 0 -19.90 0Z" fill-rule="evenodd" fill="#000" fill-opacity="0.77"/><circle cx="433.00" cy="1507.74" r="9.95" fill="rgb(239,176,188)" fill-opacity="0.75"/>
<path d="M491.70 1112.26L507.20 1127.26L491.70 1142.26L476.20 1127.26ZM491.70 1115.46L503.89 1127.26L491.70 1139.06L479.51 1127.26Z" fill-rule="evenodd" fill="#000" fill-opacity="0.77"/><path d="M491.70 1115.46L503.89 1127.26L491.70 1139.06L479.51 1127.26Z" fill="rgb(8,8,105)" fill-opacity="0.7"/>
<path d="M454.30 1141.53L469.80 1156.53L454.30 1171.53L438.80 1156.53ZM454.30 1144.73L466.49 1156.53L454.30 1168.33L442.11 1156.53Z" fill-rule="evenodd" fill="#000" fill-opacity="0.77"/><path d="M454.30 1144.73L466.49 1156.53L454.30 1168.33L442.11 1156.53Z" fill="rgb(8,8,105)" fill-opacity="0.7"/>
<path d="M581.90 1170.80L597.40 1185.80L581.90 1200.80L566.40 1185.80ZM581.90 1174.00L594.09 1185.80L581.90 1197.60L569.71 1185.80Z" fill-rule="evenodd" fill="#000" fill-opacity="0.77"/><path d="M581.90 1174.00L594.09 1185.80L581.90 1197.60L569.71 1185.80Z" fill="rgb(8,8,105)" fill-opacity="0.7"/>
<path d="M453.50 1200.06L469.00 1215.06L453.50 1230.06L438.00 1215.06ZM453.50 1203.26L465.69 1215.06L453.50 1226.86L441.31 1215.06Z" fill-rule="evenodd" fill="#000" fill-opacity="0.77"/><path d="M453.50 1203.26L465.69 1215.06L453.50 1226.86L441.31 1215.06Z" fill="rgb(8,8,105)" fill-opacity="0.7"/>
<path d="M477.00 1229.33L492.50 1244.33L477.00 1259.33L461.50 1244.33ZM477.00 1232.53L489.19 1244.33L477.00 1256.13L464.81 1244.33Z" fill-rule="evenodd" fill="#000" fill-opacity="0.77"/><path d="M477.00 1232.53L489.19 1244.33L477.00 1256.13L464.81 1244.33Z" fill="rgb(8,8,105)" fill-opacity="0.7"/>
<path d="M449.90 1258.60L465.40 1273.60L449.90 1288.60L434.40 1273.60ZM449.90 1261.80L462.09 1273.60L449.90 1285.40L437.71 1273.60Z" fill-rule="evenodd" fill="#000" fill-opacity="0.77"/><path d="M449.90 1261.80L462.09 1273.60L449.90 1285.40L437.71 1273.60Z" fill="rgb(8,8,105)" fill-opacity="0.7"/>
<path d="M451.30 1287.87L466.80 1302.87L451.30 1317.87L435.80 1302.87ZM451.30 1291.07L463.49 1302.87L451.30 1314.67L439.11 1302.87Z" fill-rule="evenodd" fill="#000" fill-opacity="0.77"/><path d="M451.30 1291.07L463.49 1302.87L451.30 1314.67L439.11 1302.87Z" fill="rgb(8,8,105)" fill-opacity="0.7"/>
<path d="M477.40 1317.13L492.90 1332.13L477.40 1347.13L461.90 1332.13ZM477.40 1320.33L489.59 1332.13L477.40 1343.93L465.21 1332.13Z" fill-rule="evenodd" fill="#000" fill-opacity="0.77"/><path d="M477.40 1320.33L489.59 1332.13L477.40 1343.93L465.21 1332.13Z" fill="rgb(8,8,105)" fill-opacity="0.7"/>
<path d="M435.10 1346.40L450.60 1361.40L435.10 1376.40L419.60 1361.40ZM435.10 1349.60L447.29 1361.40L435.10 1373.20L422.91 1361.40Z" fill-rule="evenodd" fill="#000" fill-opacity="0.77"/><path d="M435.10 1349.60L447.29 1361.40L435.10 1373.20L422.91 1361.40Z" fill="rgb(8,8,105)" fill-opacity="0.7"/>
<path d="M464.50 1375.67L480.00 1390.67L464.50 1405.67L449.00 1390.67ZM464.50 1378.87L476.69 1390.67L464.50 1402.47L452.31 1390.67Z" fill-rule="evenodd" fill="#000" fill-opacity="0.77"/><path d="M464.50 1378.87L476.69 1390.67L464.50 1402.47L452.31 1390.67Z" fill="rgb(8,8,105)" fill-opacity="0.7"/>
<path d="M496.40 1404.94L511.90 1419.94L496.40 1434.94L480.90 1419.94ZM496.40 1408.14L508.59 1419.94L496.40 1431.74L484.21 1419.94Z" fill-rule="evenodd" fill="#000" fill-opacity="0.77"/><path d="M496.40 1408.14L508.59 1419.94L496.40 1431.74L484.21 1419.94Z" fill="rgb(8,8,105)" fill-opacity="0.7"/>
<path d="M464.50 1434.20L480.00 1449.20L464.50 1464.20L449.00 1449.20ZM464.50 1437.40L476.69 1449.20L464.50 1461.00L452.31 1449.20Z" fill-rule="evenodd" fill="#000" fill-opacity="0.77"/><path d="M464.50 1437.40L476.69 1449.20L464.50 1461.00L452.31 1449.20Z" fill="rgb(8,8,105)" fill-opacity="0.7"/>
<path d="M466.40 1463.47L481.90 1478.47L466.40 1493.47L450.90 1478.47ZM466.40 1466.67L478.59 1478.47L466.40 1490.27L454.21 1478.47Z" fill-rule="evenodd" fill="#000" fill-opacity="0.77"/><path d="M466.40 1466.67L478.59 1478.47L466.40 1490.27L454.21 1478.47Z" fill="rgb(8,8,105)" fill-opacity="0.7"/>
<path d="M452.80 1492.74L468.30 1507.74L452.80 1522.74L437.30 1507.74ZM452.80 1495.94L464.99 1507.74L452.80 1519.54L440.61 1507.74Z" fill-rule="evenodd" fill="#000" fill-opacity="0.77"/><path d="M452.80 1495.94L464.99 1507.74L452.80 1519.54L440.61 1507.74Z" fill="rgb(8,8,105)" fill-opacity="0.7"/>
<rect x="328" y="1108.80" width="432.10" height="2.8" fill="#777777"/>
<rect x="757.90" y="1109.7" width="2.2" height="415.60" fill="#777777"/>
<rect x="326.1" y="1107.2" width="3.8" height="419.9999999999999" fill="#000"/>
<rect x="326.1" y="1523.3999999999999" width="435.1" height="3.8" fill="#000"/>
<rect x="319.4" y="1125.36" width="8.6" height="3.8" fill="#000"/>
<rect x="319.4" y="1154.63" width="8.6" height="3.8" fill="#000"/>
<rect x="319.4" y="1183.90" width="8.6" height="3.8" fill="#000"/>
<rect x="319.4" y="1213.16" width="8.6" height="3.8" fill="#000"/>
<rect x="319.4" y="1242.43" width="8.6" height="3.8" fill="#000"/>
<rect x="319.4" y="1271.70" width="8.6" height="3.8" fill="#000"/>
<rect x="319.4" y="1300.97" width="8.6" height="3.8" fill="#000"/>
<rect x="319.4" y="1330.23" width="8.6" height="3.8" fill="#000"/>
<rect x="319.4" y="1359.50" width="8.6" height="3.8" fill="#000"/>
<rect x="319.4" y="1388.77" width="8.6" height="3.8" fill="#000"/>
<rect x="319.4" y="1418.04" width="8.6" height="3.8" fill="#000"/>
<rect x="319.4" y="1447.30" width="8.6" height="3.8" fill="#000"/>
<rect x="319.4" y="1476.57" width="8.6" height="3.8" fill="#000"/>
<rect x="319.4" y="1505.84" width="8.6" height="3.8" fill="#000"/>
<rect x="345.50" y="1525.3" width="3.8" height="8.6" fill="#000"/>
<rect x="423.90" y="1525.3" width="3.8" height="8.6" fill="#000"/>
<rect x="502.30" y="1525.3" width="3.8" height="8.6" fill="#000"/>
<rect x="580.70" y="1525.3" width="3.8" height="8.6" fill="#000"/>
<rect x="659.10" y="1525.3" width="3.8" height="8.6" fill="#000"/>
<rect x="737.50" y="1525.3" width="3.8" height="8.6" fill="#000"/>
<text x="181.40 206.49 218.58 237.90 257.23 276.55 294.82" y="1139.46" class="lbl">Uruguay</text>
<text x="163.47 186.65 198.22 217.54 236.86 256.18 265.84 273.56 292.88" y="1168.73" class="lbl">Argentina</text>
<text x="242.70 267.79 287.11 294.82 304.49" y="1198.00" class="lbl">Haiti</text>
<text x="129.28 152.45 171.78 191.10 204.06 213.72 233.04 242.70 267.79 275.50 292.88" y="1227.26" class="lbl">Puerto Rico</text>
<text x="225.67 248.85 260.07 279.40 296.77 304.49" y="1256.53" class="lbl">Brazil</text>
<text x="233.04 258.13 277.45 285.16 292.88" y="1285.80" class="lbl">Chile</text>
<text x="142.24 169.27 188.59 207.92 217.58 236.90 265.84 285.16 292.88" y="1315.07" class="lbl">Guatemala</text>
<text x="1.12 18.18 30.27 37.99 57.31 65.02 84.34 103.67 122.99 132.65 151.97 171.29 190.61 198.53 215.59 234.92 254.24 273.56 292.88" y="1344.33" class="lbl">Trinidad and Tobago</text>
<text x="150.79 171.18 190.51 209.83 229.15 246.52 265.84 285.16 292.88" y="1373.60" class="lbl">Venezuela</text>
<text x="154.19 179.28 187.00 204.37 223.69 234.92 254.24 273.56 292.88" y="1402.87" class="lbl">Nicaragua</text>
<text x="165.45 190.54 209.86 217.58 236.90 265.84 285.16 292.88" y="1432.14" class="lbl">Colombia</text>
<text x="240.02 261.46 280.79 292.88" y="1461.40" class="lbl">Peru</text>
<text x="209.86 233.04 252.36 260.07 267.79 285.16 292.88" y="1490.67" class="lbl">Bolivia</text>
<text x="182.79 205.97 223.34 242.67 261.99 281.31 300.63" y="1519.94" class="lbl">Ecuador</text>
<text x="323.25 342.57 352.23" y="1566.30" class="lbl">0.0</text>
<text x="401.65 420.97 430.63" y="1566.30" class="lbl">0.1</text>
<text x="480.05 499.37 509.03" y="1566.30" class="lbl">0.2</text>
<text x="558.45 577.77 587.43" y="1566.30" class="lbl">0.3</text>
<text x="636.85 656.17 665.83" y="1566.30" class="lbl">0.4</text>
<text x="715.25 734.57 744.23" y="1566.30" class="lbl">0.5</text>
<text x="335.40 361.39 378.74 396.08 413.43 422.10 444.63" y="1606.10" class="axt">Mean CF</text>
<text x="464.89 479.17" y="1610.90" class="sub">ST</text>
<text x="500.92 509.59 519.98 537.33 563.32 571.99 589.34 606.69 622.29 639.63 648.31 663.91 681.25 698.60 715.95 724.62 735.95" y="1606.10" class="axt">from each country</text>
<text x="327.60 357.29 380.15 403.01 414.45 427.73 450.59 459.72 471.15 498.58 521.44 544.30 555.73 578.60 590.03 617.45 651.71 674.57 688.88 698.01 718.57 741.43" y="1038.30" class="ttl">Central/South America,</text>
<text x="327.60 357.29 380.15 394.46 403.59 426.04 448.90 471.77 494.63" y="1083.00" class="ttl">Caribbean</text>
<line x1="1051" x2="1482" y1="1126.11" y2="1126.11" stroke="#d3d3d3" stroke-width="3.3"/>
<line x1="1051" x2="1482" y1="1153.45" y2="1153.45" stroke="#d3d3d3" stroke-width="3.3"/>
<line x1="1051" x2="1482" y1="1180.79" y2="1180.79" stroke="#d3d3d3" stroke-width="3.3"/>
<line x1="1051" x2="1482" y1="1208.13" y2="1208.13" stroke="#d3d3d3" stroke-width="3.3"/>
<line x1="1051" x2="1482" y1="1235.47" y2="1235.47" stroke="#d3d3d3" stroke-width="3.3"/>
<line x1="1051" x2="1482" y1="1262.82" y2="1262.82" stroke="#d3d3d3" stroke-width="3.3"/>
<line x1="1051" x2="1482" y1="1290.16" y2="1290.16" stroke="#d3d3d3" stroke-width="3.3"/>
<line x1="1051" x2="1482" y1="1317.50" y2="1317.50" stroke="#d3d3d3" stroke-width="3.3"/>
<line x1="1051" x2="1482" y1="1344.84" y2="1344.84" stroke="#d3d3d3" stroke-width="3.3"/>
<line x1="1051" x2="1482" y1="1372.18" y2="1372.18" stroke="#d3d3d3" stroke-width="3.3"/>
<line x1="1051" x2="1482" y1="1399.53" y2="1399.53" stroke="#d3d3d3" stroke-width="3.3"/>
<line x1="1051" x2="1482" y1="1426.87" y2="1426.87" stroke="#d3d3d3" stroke-width="3.3"/>
<line x1="1051" x2="1482" y1="1454.21" y2="1454.21" stroke="#d3d3d3" stroke-width="3.3"/>
<line x1="1051" x2="1482" y1="1481.55" y2="1481.55" stroke="#d3d3d3" stroke-width="3.3"/>
<line x1="1051" x2="1482" y1="1508.89" y2="1508.89" stroke="#d3d3d3" stroke-width="3.3"/>
<rect x="1217.50" y="1116.61" width="95.20" height="19" fill="#d3d3d3"/>
<rect x="1159.30" y="1143.95" width="46.60" height="19" fill="#d3d3d3"/>
<rect x="1196.30" y="1171.29" width="58.50" height="19" fill="#d3d3d3"/>
<rect x="1155.20" y="1198.63" width="26.10" height="19" fill="#d3d3d3"/>
<rect x="1179.80" y="1225.97" width="62.20" height="19" fill="#d3d3d3"/>
<rect x="1163.70" y="1253.32" width="18.00" height="19" fill="#d3d3d3"/>
<rect x="1160.30" y="1280.66" width="29.00" height="19" fill="#d3d3d3"/>
<rect x="1166.20" y="1308.00" width="19.00" height="19" fill="#d3d3d3"/>
<rect x="1148.20" y="1335.34" width="23.60" height="19" fill="#d3d3d3"/>
<rect x="1215.30" y="1362.68" width="79.00" height="19" fill="#d3d3d3"/>
<rect x="1184.90" y="1390.03" width="60.50" height="19" fill="#d3d3d3"/>
<rect x="1197.00" y="1417.37" width="65.60" height="19" fill="#d3d3d3"/>
<rect x="1160.70" y="1444.71" width="34.10" height="19" fill="#d3d3d3"/>
<rect x="1202.10" y="1472.05" width="70.20" height="19" fill="#d3d3d3"/>
<rect x="1281.70" y="1499.39" width="140.40" height="19" fill="#d3d3d3"/>
<circle cx="1217.50" cy="1126.11" r="12.1" fill="#fff"/>
<circle cx="1159.30" cy="1153.45" r="12.1" fill="#fff"/>
<circle cx="1196.30" cy="1180.79" r="12.1" fill="#fff"/>
<circle cx="1155.20" cy="1208.13" r="12.1" fill="#fff"/>
<circle cx="1179.80" cy="1235.47" r="12.1" fill="#fff"/>
<circle cx="1163.70" cy="1262.82" r="12.1" fill="#fff"/>
<circle cx="1160.30" cy="1290.16" r="12.1" fill="#fff"/>
<circle cx="1166.20" cy="1317.50" r="12.1" fill="#fff"/>
<circle cx="1148.20" cy="1344.84" r="12.1" fill="#fff"/>
<circle cx="1215.30" cy="1372.18" r="12.1" fill="#fff"/>
<circle cx="1184.90" cy="1399.53" r="12.1" fill="#fff"/>
<circle cx="1197.00" cy="1426.87" r="12.1" fill="#fff"/>
<circle cx="1160.70" cy="1454.21" r="12.1" fill="#fff"/>
<circle cx="1202.10" cy="1481.55" r="12.1" fill="#fff"/>
<circle cx="1281.70" cy="1508.89" r="12.1" fill="#fff"/>
<path d="M1305.50 1111.11L1321.00 1126.11L1305.50 1141.11L1290.00 1126.11ZM1305.50 1114.31L1317.69 1126.11L1305.50 1137.90L1293.31 1126.11Z" fill-rule="evenodd" fill="#000" fill-opacity="0.77"/><path d="M1305.50 1114.31L1317.69 1126.11L1305.50 1137.90L1293.31 1126.11Z" fill="rgb(176,19,19)" fill-opacity="0.7"/>
<path d="M1198.80 1138.45L1214.30 1153.45L1198.80 1168.45L1183.30 1153.45ZM1198.80 1141.65L1210.99 1153.45L1198.80 1165.25L1186.61 1153.45Z" fill-rule="evenodd" fill="#000" fill-opacity="0.77"/><path d="M1198.80 1141.65L1210.99 1153.45L1198.80 1165.25L1186.61 1153.45Z" fill="rgb(176,19,19)" fill-opacity="0.7"/>
<path d="M1252.20 1165.79L1267.70 1180.79L1252.20 1195.79L1236.70 1180.79ZM1252.20 1168.99L1264.39 1180.79L1252.20 1192.59L1240.01 1180.79Z" fill-rule="evenodd" fill="#000" fill-opacity="0.77"/><path d="M1252.20 1168.99L1264.39 1180.79L1252.20 1192.59L1240.01 1180.79Z" fill="rgb(176,19,19)" fill-opacity="0.7"/>
<path d="M1181.30 1193.13L1196.80 1208.13L1181.30 1223.13L1165.80 1208.13ZM1181.30 1196.33L1193.49 1208.13L1181.30 1219.93L1169.11 1208.13Z" fill-rule="evenodd" fill="#000" fill-opacity="0.77"/><path d="M1181.30 1196.33L1193.49 1208.13L1181.30 1219.93L1169.11 1208.13Z" fill="rgb(176,19,19)" fill-opacity="0.7"/>
<path d="M1242.00 1220.47L1257.50 1235.47L1242.00 1250.47L1226.50 1235.47ZM1242.00 1223.67L1254.19 1235.47L1242.00 1247.27L1229.81 1235.47Z" fill-rule="evenodd" fill="#000" fill-opacity="0.77"/><path d="M1242.00 1223.67L1254.19 1235.47L1242.00 1247.27L1229.81 1235.47Z" fill="rgb(176,19,19)" fill-opacity="0.7"/>
<path d="M1181.70 1247.82L1197.20 1262.82L1181.70 1277.82L1166.20 1262.82ZM1181.70 1251.02L1193.89 1262.82L1181.70 1274.62L1169.51 1262.82Z" fill-rule="evenodd" fill="#000" fill-opacity="0.77"/><path d="M1181.70 1251.02L1193.89 1262.82L1181.70 1274.62L1169.51 1262.82Z" fill="rgb(176,19,19)" fill-opacity="0.7"/>
<path d="M1189.30 1275.16L1204.80 1290.16L1189.30 1305.16L1173.80 1290.16ZM1189.30 1278.36L1201.49 1290.16L1189.30 1301.96L1177.11 1290.16Z" fill-rule="evenodd" fill="#000" fill-opacity="0.77"/><path d="M1189.30 1278.36L1201.49 1290.16L1189.30 1301.96L1177.11 1290.16Z" fill="rgb(176,19,19)" fill-opacity="0.7"/>
<path d="M1185.20 1302.50L1200.70 1317.50L1185.20 1332.50L1169.70 1317.50ZM1185.20 1305.70L1197.39 1317.50L1185.20 1329.30L1173.01 1317.50Z" fill-rule="evenodd" fill="#000" fill-opacity="0.77"/><path d="M1185.20 1305.70L1197.39 1317.50L1185.20 1329.30L1173.01 1317.50Z" fill="rgb(176,19,19)" fill-opacity="0.7"/>
<path d="M1171.80 1329.84L1187.30 1344.84L1171.80 1359.84L1156.30 1344.84ZM1171.80 1333.04L1183.99 1344.84L1171.80 1356.64L1159.61 1344.84Z" fill-rule="evenodd" fill="#000" fill-opacity="0.77"/><path d="M1171.80 1333.04L1183.99 1344.84L1171.80 1356.64L1159.61 1344.84Z" fill="rgb(176,19,19)" fill-opacity="0.7"/>
<path d="M1294.30 1357.18L1309.80 1372.18L1294.30 1387.18L1278.80 1372.18ZM1294.30 1360.38L1306.49 1372.18L1294.30 1383.98L1282.11 1372.18Z" fill-rule="evenodd" fill="#000" fill-opacity="0.77"/><path d="M1294.30 1360.38L1306.49 1372.18L1294.30 1383.98L1282.11 1372.18Z" fill="rgb(176,19,19)" fill-opacity="0.7"/>
<path d="M1245.40 1384.53L1260.90 1399.53L1245.40 1414.53L1229.90 1399.53ZM1245.40 1387.73L1257.59 1399.53L1245.40 1411.33L1233.21 1399.53Z" fill-rule="evenodd" fill="#000" fill-opacity="0.77"/><path d="M1245.40 1387.73L1257.59 1399.53L1245.40 1411.33L1233.21 1399.53Z" fill="rgb(176,19,19)" fill-opacity="0.7"/>
<path d="M1262.60 1411.87L1278.10 1426.87L1262.60 1441.87L1247.10 1426.87ZM1262.60 1415.07L1274.79 1426.87L1262.60 1438.67L1250.41 1426.87Z" fill-rule="evenodd" fill="#000" fill-opacity="0.77"/><path d="M1262.60 1415.07L1274.79 1426.87L1262.60 1438.67L1250.41 1426.87Z" fill="rgb(176,19,19)" fill-opacity="0.7"/>
<path d="M1194.80 1439.21L1210.30 1454.21L1194.80 1469.21L1179.30 1454.21ZM1194.80 1442.41L1206.99 1454.21L1194.80 1466.01L1182.61 1454.21Z" fill-rule="evenodd" fill="#000" fill-opacity="0.77"/><path d="M1194.80 1442.41L1206.99 1454.21L1194.80 1466.01L1182.61 1454.21Z" fill="rgb(176,19,19)" fill-opacity="0.7"/>
<path d="M1272.30 1466.55L1287.80 1481.55L1272.30 1496.55L1256.80 1481.55ZM1272.30 1469.75L1284.49 1481.55L1272.30 1493.35L1260.11 1481.55Z" fill-rule="evenodd" fill="#000" fill-opacity="0.77"/><path d="M1272.30 1469.75L1284.49 1481.55L1272.30 1493.35L1260.11 1481.55Z" fill="rgb(176,19,19)" fill-opacity="0.7"/>
<path d="M1422.10 1493.89L1437.60 1508.89L1422.10 1523.89L1406.60 1508.89ZM1422.10 1497.10L1434.29 1508.89L1422.10 1520.69L1409.91 1508.89Z" fill-rule="evenodd" fill="#000" fill-opacity="0.77"/><path d="M1422.10 1497.10L1434.29 1508.89L1422.10 1520.69L1409.91 1508.89Z" fill="rgb(176,19,19)" fill-opacity="0.7"/>
<path d="M1205.10 1126.11a12.4 12.4 0 1 0 24.80 0a12.4 12.4 0 1 0 -24.80 0ZM1207.55 1126.11a9.95 9.95 0 1 0 19.90 0a9.95 9.95 0 1 0 -19.90 0Z" fill-rule="evenodd" fill="#000" fill-opacity="0.77"/><circle cx="1217.50" cy="1126.11" r="9.95" fill="rgb(239,176,188)" fill-opacity="0.75"/>
<path d="M1146.90 1153.45a12.4 12.4 0 1 0 24.80 0a12.4 12.4 0 1 0 -24.80 0ZM1149.35 1153.45a9.95 9.95 0 1 0 19.90 0a9.95 9.95 0 1 0 -19.90 0Z" fill-rule="evenodd" fill="#000" fill-opacity="0.77"/><circle cx="1159.30" cy="1153.45" r="9.95" fill="rgb(239,176,188)" fill-opacity="0.75"/>
<path d="M1183.90 1180.79a12.4 12.4 0 1 0 24.80 0a12.4 12.4 0 1 0 -24.80 0ZM1186.35 1180.79a9.95 9.95 0 1 0 19.90 0a9.95 9.95 0 1 0 -19.90 0Z" fill-rule="evenodd" fill="#000" fill-opacity="0.77"/><circle cx="1196.30" cy="1180.79" r="9.95" fill="rgb(239,176,188)" fill-opacity="0.75"/>
<path d="M1142.80 1208.13a12.4 12.4 0 1 0 24.80 0a12.4 12.4 0 1 0 -24.80 0ZM1145.25 1208.13a9.95 9.95 0 1 0 19.90 0a9.95 9.95 0 1 0 -19.90 0Z" fill-rule="evenodd" fill="#000" fill-opacity="0.77"/><circle cx="1155.20" cy="1208.13" r="9.95" fill="rgb(239,176,188)" fill-opacity="0.75"/>
<path d="M1167.40 1235.47a12.4 12.4 0 1 0 24.80 0a12.4 12.4 0 1 0 -24.80 0ZM1169.85 1235.47a9.95 9.95 0 1 0 19.90 0a9.95 9.95 0 1 0 -19.90 0Z" fill-rule="evenodd" fill="#000" fill-opacity="0.77"/><circle cx="1179.80" cy="1235.47" r="9.95" fill="rgb(239,176,188)" fill-opacity="0.75"/>
<path d="M1151.30 1262.82a12.4 12.4 0 1 0 24.80 0a12.4 12.4 0 1 0 -24.80 0ZM1153.75 1262.82a9.95 9.95 0 1 0 19.90 0a9.95 9.95 0 1 0 -19.90 0Z" fill-rule="evenodd" fill="#000" fill-opacity="0.77"/><circle cx="1163.70" cy="1262.82" r="9.95" fill="rgb(239,176,188)" fill-opacity="0.75"/>
<path d="M1147.90 1290.16a12.4 12.4 0 1 0 24.80 0a12.4 12.4 0 1 0 -24.80 0ZM1150.35 1290.16a9.95 9.95 0 1 0 19.90 0a9.95 9.95 0 1 0 -19.90 0Z" fill-rule="evenodd" fill="#000" fill-opacity="0.77"/><circle cx="1160.30" cy="1290.16" r="9.95" fill="rgb(239,176,188)" fill-opacity="0.75"/>
<path d="M1153.80 1317.50a12.4 12.4 0 1 0 24.80 0a12.4 12.4 0 1 0 -24.80 0ZM1156.25 1317.50a9.95 9.95 0 1 0 19.90 0a9.95 9.95 0 1 0 -19.90 0Z" fill-rule="evenodd" fill="#000" fill-opacity="0.77"/><circle cx="1166.20" cy="1317.50" r="9.95" fill="rgb(239,176,188)" fill-opacity="0.75"/>
<path d="M1135.80 1344.84a12.4 12.4 0 1 0 24.80 0a12.4 12.4 0 1 0 -24.80 0ZM1138.25 1344.84a9.95 9.95 0 1 0 19.90 0a9.95 9.95 0 1 0 -19.90 0Z" fill-rule="evenodd" fill="#000" fill-opacity="0.77"/><circle cx="1148.20" cy="1344.84" r="9.95" fill="rgb(239,176,188)" fill-opacity="0.75"/>
<path d="M1202.90 1372.18a12.4 12.4 0 1 0 24.80 0a12.4 12.4 0 1 0 -24.80 0ZM1205.35 1372.18a9.95 9.95 0 1 0 19.90 0a9.95 9.95 0 1 0 -19.90 0Z" fill-rule="evenodd" fill="#000" fill-opacity="0.77"/><circle cx="1215.30" cy="1372.18" r="9.95" fill="rgb(239,176,188)" fill-opacity="0.75"/>
<path d="M1172.50 1399.53a12.4 12.4 0 1 0 24.80 0a12.4 12.4 0 1 0 -24.80 0ZM1174.95 1399.53a9.95 9.95 0 1 0 19.90 0a9.95 9.95 0 1 0 -19.90 0Z" fill-rule="evenodd" fill="#000" fill-opacity="0.77"/><circle cx="1184.90" cy="1399.53" r="9.95" fill="rgb(239,176,188)" fill-opacity="0.75"/>
<path d="M1184.60 1426.87a12.4 12.4 0 1 0 24.80 0a12.4 12.4 0 1 0 -24.80 0ZM1187.05 1426.87a9.95 9.95 0 1 0 19.90 0a9.95 9.95 0 1 0 -19.90 0Z" fill-rule="evenodd" fill="#000" fill-opacity="0.77"/><circle cx="1197.00" cy="1426.87" r="9.95" fill="rgb(239,176,188)" fill-opacity="0.75"/>
<path d="M1148.30 1454.21a12.4 12.4 0 1 0 24.80 0a12.4 12.4 0 1 0 -24.80 0ZM1150.75 1454.21a9.95 9.95 0 1 0 19.90 0a9.95 9.95 0 1 0 -19.90 0Z" fill-rule="evenodd" fill="#000" fill-opacity="0.77"/><circle cx="1160.70" cy="1454.21" r="9.95" fill="rgb(239,176,188)" fill-opacity="0.75"/>
<path d="M1189.70 1481.55a12.4 12.4 0 1 0 24.80 0a12.4 12.4 0 1 0 -24.80 0ZM1192.15 1481.55a9.95 9.95 0 1 0 19.90 0a9.95 9.95 0 1 0 -19.90 0Z" fill-rule="evenodd" fill="#000" fill-opacity="0.77"/><circle cx="1202.10" cy="1481.55" r="9.95" fill="rgb(239,176,188)" fill-opacity="0.75"/>
<path d="M1269.30 1508.89a12.4 12.4 0 1 0 24.80 0a12.4 12.4 0 1 0 -24.80 0ZM1271.75 1508.89a9.95 9.95 0 1 0 19.90 0a9.95 9.95 0 1 0 -19.90 0Z" fill-rule="evenodd" fill="#000" fill-opacity="0.77"/><circle cx="1281.70" cy="1508.89" r="9.95" fill="rgb(239,176,188)" fill-opacity="0.75"/>
<path d="M1312.70 1111.11L1328.20 1126.11L1312.70 1141.11L1297.20 1126.11ZM1312.70 1114.31L1324.89 1126.11L1312.70 1137.90L1300.51 1126.11Z" fill-rule="evenodd" fill="#000" fill-opacity="0.77"/><path d="M1312.70 1114.31L1324.89 1126.11L1312.70 1137.90L1300.51 1126.11Z" fill="rgb(8,8,105)" fill-opacity="0.7"/>
<path d="M1205.90 1138.45L1221.40 1153.45L1205.90 1168.45L1190.40 1153.45ZM1205.90 1141.65L1218.09 1153.45L1205.90 1165.25L1193.71 1153.45Z" fill-rule="evenodd" fill="#000" fill-opacity="0.77"/><path d="M1205.90 1141.65L1218.09 1153.45L1205.90 1165.25L1193.71 1153.45Z" fill="rgb(8,8,105)" fill-opacity="0.7"/>
<path d="M1254.80 1165.79L1270.30 1180.79L1254.80 1195.79L1239.30 1180.79ZM1254.80 1168.99L1266.99 1180.79L1254.80 1192.59L1242.61 1180.79Z" fill-rule="evenodd" fill="#000" fill-opacity="0.77"/><path d="M1254.80 1168.99L1266.99 1180.79L1254.80 1192.59L1242.61 1180.79Z" fill="rgb(8,8,105)" fill-opacity="0.7"/>
<path d="M1179.80 1193.13L1195.30 1208.13L1179.80 1223.13L1164.30 1208.13ZM1179.80 1196.33L1191.99 1208.13L1179.80 1219.93L1167.61 1208.13Z" fill-rule="evenodd" fill="#000" fill-opacity="0.77"/><path d="M1179.80 1196.33L1191.99 1208.13L1179.80 1219.93L1167.61 1208.13Z" fill="rgb(8,8,105)" fill-opacity="0.7"/>
<path d="M1239.50 1220.47L1255.00 1235.47L1239.50 1250.47L1224.00 1235.47ZM1239.50 1223.67L1251.69 1235.47L1239.50 1247.27L1227.31 1235.47Z" fill-rule="evenodd" fill="#000" fill-opacity="0.77"/><path d="M1239.50 1223.67L1251.69 1235.47L1239.50 1247.27L1227.31 1235.47Z" fill="rgb(8,8,105)" fill-opacity="0.7"/>
<path d="M1174.90 1247.82L1190.40 1262.82L1174.90 1277.82L1159.40 1262.82ZM1174.90 1251.02L1187.09 1262.82L1174.90 1274.62L1162.71 1262.82Z" fill-rule="evenodd" fill="#000" fill-opacity="0.77"/><path d="M1174.90 1251.02L1187.09 1262.82L1174.90 1274.62L1162.71 1262.82Z" fill="rgb(8,8,105)" fill-opacity="0.7"/>
<path d="M1179.30 1275.16L1194.80 1290.16L1179.30 1305.16L1163.80 1290.16ZM1179.30 1278.36L1191.49 1290.16L1179.30 1301.96L1167.11 1290.16Z" fill-rule="evenodd" fill="#000" fill-opacity="0.77"/><path d="M1179.30 1278.36L1191.49 1290.16L1179.30 1301.96L1167.11 1290.16Z" fill="rgb(8,8,105)" fill-opacity="0.7"/>
<path d="M1175.00 1302.50L1190.50 1317.50L1175.00 1332.50L1159.50 1317.50ZM1175.00 1305.70L1187.19 1317.50L1175.00 1329.30L1162.81 1317.50Z" fill-rule="evenodd" fill="#000" fill-opacity="0.77"/><path d="M1175.00 1305.70L1187.19 1317.50L1175.00 1329.30L1162.81 1317.50Z" fill="rgb(8,8,105)" fill-opacity="0.7"/>
<path d="M1161.40 1329.84L1176.90 1344.84L1161.40 1359.84L1145.90 1344.84ZM1161.40 1333.04L1173.59 1344.84L1161.40 1356.64L1149.21 1344.84Z" fill-rule="evenodd" fill="#000" fill-opacity="0.77"/><path d="M1161.40 1333.04L1173.59 1344.84L1161.40 1356.64L1149.21 1344.84Z" fill="rgb(8,8,105)" fill-opacity="0.7"/>
<path d="M1276.70 1357.18L1292.20 1372.18L1276.70 1387.18L1261.20 1372.18ZM1276.70 1360.38L1288.89 1372.18L1276.70 1383.98L1264.51 1372.18Z" fill-rule="evenodd" fill="#000" fill-opacity="0.77"/><path d="M1276.70 1360.38L1288.89 1372.18L1276.70 1383.98L1264.51 1372.18Z" fill="rgb(8,8,105)" fill-opacity="0.7"/>
<path d="M1227.80 1384.53L1243.30 1399.53L1227.80 1414.53L1212.30 1399.53ZM1227.80 1387.73L1239.99 1399.53L1227.80 1411.33L1215.61 1399.53Z" fill-rule="evenodd" fill="#000" fill-opacity="0.77"/><path d="M1227.80 1387.73L1239.99 1399.53L1227.80 1411.33L1215.61 1399.53Z" fill="rgb(8,8,105)" fill-opacity="0.7"/>
<path d="M1245.00 1411.87L1260.50 1426.87L1245.00 1441.87L1229.50 1426.87ZM1245.00 1415.07L1257.19 1426.87L1245.00 1438.67L1232.81 1426.87Z" fill-rule="evenodd" fill="#000" fill-opacity="0.77"/><path d="M1245.00 1415.07L1257.19 1426.87L1245.00 1438.67L1232.81 1426.87Z" fill="rgb(8,8,105)" fill-opacity="0.7"/>
<path d="M1171.70 1439.21L1187.20 1454.21L1171.70 1469.21L1156.20 1454.21ZM1171.70 1442.41L1183.89 1454.21L1171.70 1466.01L1159.51 1454.21Z" fill-rule="evenodd" fill="#000" fill-opacity="0.77"/><path d="M1171.70 1442.41L1183.89 1454.21L1171.70 1466.01L1159.51 1454.21Z" fill="rgb(8,8,105)" fill-opacity="0.7"/>
<path d="M1247.00 1466.55L1262.50 1481.55L1247.00 1496.55L1231.50 1481.55ZM1247.00 1469.75L1259.19 1481.55L1247.00 1493.35L1234.81 1481.55Z" fill-rule="evenodd" fill="#000" fill-opacity="0.77"/><path d="M1247.00 1469.75L1259.19 1481.55L1247.00 1493.35L1234.81 1481.55Z" fill="rgb(8,8,105)" fill-opacity="0.7"/>
<path d="M1383.40 1493.89L1398.90 1508.89L1383.40 1523.89L1367.90 1508.89ZM1383.40 1497.10L1395.59 1508.89L1383.40 1520.69L1371.21 1508.89Z" fill-rule="evenodd" fill="#000" fill-opacity="0.77"/><path d="M1383.40 1497.10L1395.59 1508.89L1383.40 1520.69L1371.21 1508.89Z" fill="rgb(8,8,105)" fill-opacity="0.7"/>
<rect x="1051" y="1108.80" width="432.10" height="2.8" fill="#777777"/>
<rect x="1480.90" y="1109.7" width="2.2" height="415.60" fill="#777777"/>
<rect x="1049.1" y="1107.2" width="3.8" height="419.9999999999999" fill="#000"/>
<rect x="1049.1" y="1523.3999999999999" width="435.10000000000014" height="3.8" fill="#000"/>
<rect x="1042.4" y="1124.21" width="8.6" height="3.8" fill="#000"/>
<rect x="1042.4" y="1151.55" width="8.6" height="3.8" fill="#000"/>
<rect x="1042.4" y="1178.89" width="8.6" height="3.8" fill="#000"/>
<rect x="1042.4" y="1206.23" width="8.6" height="3.8" fill="#000"/>
<rect x="1042.4" y="1233.57" width="8.6" height="3.8" fill="#000"/>
<rect x="1042.4" y="1260.92" width="8.6" height="3.8" fill="#000"/>
<rect x="1042.4" y="1288.26" width="8.6" height="3.8" fill="#000"/>
<rect x="1042.4" y="1315.60" width="8.6" height="3.8" fill="#000"/>
<rect x="1042.4" y="1342.94" width="8.6" height="3.8" fill="#000"/>
<rect x="1042.4" y="1370.28" width="8.6" height="3.8" fill="#000"/>
<rect x="1042.4" y="1397.63" width="8.6" height="3.8" fill="#000"/>
<rect x="1042.4" y="1424.97" width="8.6" height="3.8" fill="#000"/>
<rect x="1042.4" y="1452.31" width="8.6" height="3.8" fill="#000"/>
<rect x="1042.4" y="1479.65" width="8.6" height="3.8" fill="#000"/>
<rect x="1042.4" y="1506.99" width="8.6" height="3.8" fill="#000"/>
<rect x="1068.70" y="1525.3" width="3.8" height="8.6" fill="#000"/>
<rect x="1147.10" y="1525.3" width="3.8" height="8.6" fill="#000"/>
<rect x="1225.50" y="1525.3" width="3.8" height="8.6" fill="#000"/>
<rect x="1303.90" y="1525.3" width="3.8" height="8.6" fill="#000"/>
<rect x="1382.30" y="1525.3" width="3.8" height="8.6" fill="#000"/>
<rect x="1460.70" y="1525.3" width="3.8" height="8.6" fill="#000"/>
<text x="953.54 972.86 980.57 999.20 1015.88" y="1138.31" class="lbl">Libya</text>
<text x="901.97 930.92 950.24 961.81 981.13 998.50 1015.88" y="1165.65" class="lbl">Morocco</text>
<text x="909.65 932.83 942.49 961.81 969.52 988.84 1008.16 1015.88" y="1192.99" class="lbl">Ethiopia</text>
<text x="939.29 961.08 980.40 999.20 1015.88" y="1220.33" class="lbl">Kenya</text>
<text x="927.37 944.43 963.75 983.08 990.79 1008.16 1015.88" y="1247.67" class="lbl">Tunisia</text>
<text x="831.70 854.88 874.20 886.30 903.67 911.39 930.71 950.03 959.69 979.18 998.50 1015.88" y="1275.02" class="lbl">Burkina Faso</text>
<text x="926.54 949.72 957.43 976.75 996.07 1008.16 1015.88" y="1302.36" class="lbl">Algeria</text>
<text x="971.50 1000.45 1019.77 1027.49" y="1329.70" class="lbl">Mali</text>
<text x="919.34 940.58 959.90 988.84 1008.16 1015.88" y="1357.04" class="lbl">Zambia</text>
<text x="930.88 957.92 977.24 996.56 1015.88" y="1384.38" class="lbl">Ghana</text>
<text x="875.28 896.51 904.23 933.17 952.50 971.82 991.14 1015.88" y="1411.73" class="lbl">Zimbabwe</text>
<text x="908.26 933.35 957.92 977.24 996.56 1015.88" y="1439.07" class="lbl">Rwanda</text>
<text x="845.40 868.57 887.89 907.22 916.88 936.20 945.86 969.04 978.70 990.79 998.50 1015.88" y="1466.41" class="lbl">South Africa</text>
<text x="924.63 949.72 957.43 976.75 996.07 1008.16 1015.88" y="1493.75" class="lbl">Nigeria</text>
<text x="946.34 969.52 988.84 1006.22 1025.54" y="1521.09" class="lbl">Egypt</text>
<text x="1046.45 1065.77 1075.43" y="1566.30" class="lbl">0.0</text>
<text x="1124.85 1144.17 1153.83" y="1566.30" class="lbl">0.1</text>
<text x="1203.25 1222.57 1232.23" y="1566.30" class="lbl">0.2</text>
<text x="1281.65 1300.97 1310.63" y="1566.30" class="lbl">0.3</text>
<text x="1360.05 1379.37 1389.03" y="1566.30" class="lbl">0.4</text>
<text x="1438.45 1457.77 1467.43" y="1566.30" class="lbl">0.5</text>
<text x="1058.40 1084.39 1101.74 1119.08 1136.43 1145.10 1167.63" y="1606.10" class="axt">Mean CF</text>
<text x="1187.89 1202.17" y="1610.90" class="sub">ST</text>
<text x="1223.92 1232.59 1242.98 1260.33 1286.32 1294.99 1312.34 1329.69 1345.29 1362.63 1371.31 1386.91 1404.25 1421.60 1438.95 1447.62 1458.95" y="1606.10" class="axt">from each country</text>
<text x="1050.60 1078.03 1089.46 1103.77 1112.90 1133.46" y="1038.30" class="ttl">Africa</text>
<rect x="328" y="363.76" width="431" height="4" fill="#000"/>
<rect x="178" y="1701.2" width="50.4" height="50.2" fill="#e4e4e4"/>
<path d="M203.20 1711.40L218.70 1726.40L203.20 1741.40L187.70 1726.40ZM203.20 1714.60L215.39 1726.40L203.20 1738.20L191.01 1726.40Z" fill-rule="evenodd" fill="#000" fill-opacity="0.77"/><path d="M203.20 1714.60L215.39 1726.40L203.20 1738.20L191.01 1726.40Z" fill="rgb(8,8,105)" fill-opacity="0.7"/>
<text x="247.50 270.32 277.33 294.90 312.47 321.25 338.82 356.39 373.96 389.76 407.33 416.12 423.13 440.70 458.27 467.06 484.63 502.20 519.77 538.22 548.74 566.31 582.11 589.13 606.70 624.27 641.84 650.62 659.41 669.93 689.43 707.00 722.80 731.58 750.03 771.11 788.68 804.48 822.05 839.62 857.19 874.76 886.23 902.03" y="1737.90" class="leg">High education non−resident (Post−Secondary)</text>
<rect x="178" y="1756.1" width="50.4" height="50.2" fill="#e4e4e4"/>
<circle cx="203.2" cy="1781.3" r="12.1" fill="#fff"/>
<path d="M190.80 1781.30a12.4 12.4 0 1 0 24.80 0a12.4 12.4 0 1 0 -24.80 0ZM193.25 1781.30a9.95 9.95 0 1 0 19.90 0a9.95 9.95 0 1 0 -19.90 0Z" fill-rule="evenodd" fill="#000" fill-opacity="0.77"/><circle cx="203.20" cy="1781.30" r="9.95" fill="rgb(239,176,188)" fill-opacity="0.75"/>
<text x="247.50 273.82 280.84 298.41 307.19 324.76 342.33 359.90 375.70 393.27 402.06 409.07 426.64 444.21 452.99 470.56 488.13 505.70 524.16 534.68 552.25 568.05 575.07 592.64 610.20 627.77 636.56 645.34 655.87 676.94 694.51 710.31 727.88 745.45 763.02 780.59 792.06 807.86" y="1792.80" class="leg">Mid education non−resident (Secondary)</text>
<rect x="178" y="1810.9" width="50.4" height="50.2" fill="#e4e4e4"/>
<path d="M203.20 1821.10L218.70 1836.10L203.20 1851.10L187.70 1836.10ZM203.20 1824.30L215.39 1836.10L203.20 1847.90L191.01 1836.10Z" fill-rule="evenodd" fill="#000" fill-opacity="0.77"/><path d="M203.20 1824.30L215.39 1836.10L203.20 1847.90L191.01 1836.10Z" fill="rgb(176,19,19)" fill-opacity="0.7"/>
<text x="247.50 265.07 282.17 304.98 313.77 331.33 348.90 366.47 382.27 399.84 408.63 415.64 433.21 450.78 459.57 477.14 494.71 512.28 530.73 541.25 558.82 574.62 581.64 599.21 616.78 634.35 643.13 651.92 662.44 683.52 694.51 701.53 727.85 745.42 756.89 772.69" y="1846.80" class="leg">Low education non−resident (Primary)</text>
</svg></body></html>
